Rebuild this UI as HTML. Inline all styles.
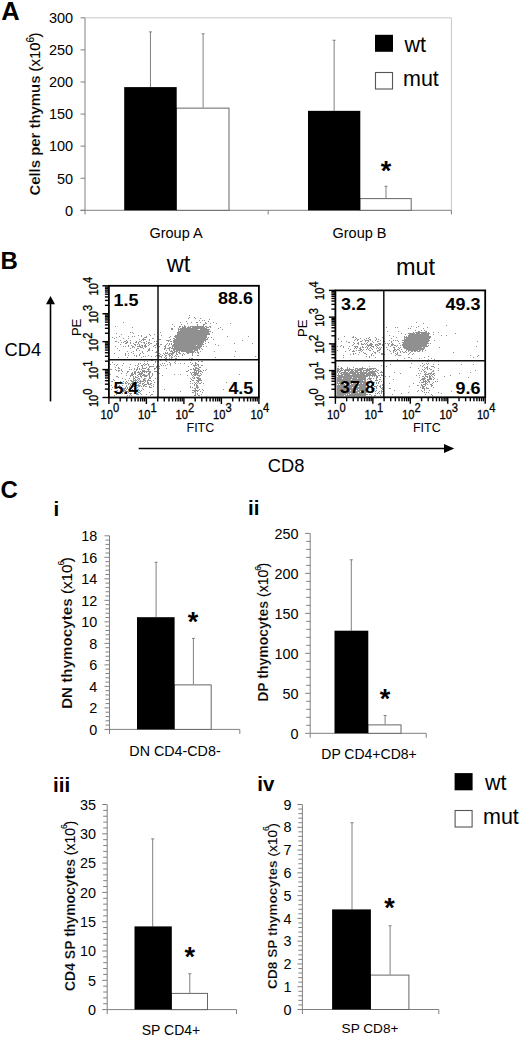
<!DOCTYPE html>
<html><head><meta charset="utf-8"><style>
html,body{margin:0;padding:0;background:#fff;width:520px;height:1037px;overflow:hidden}
svg{display:block;font-family:"Liberation Sans",sans-serif}
</style></head><body>
<svg width="520" height="1037" viewBox="0 0 520 1037" shape-rendering="auto">
<rect width="520" height="1037" fill="#fff"/>
<text x="1.30" y="19.60" font-size="25.5" text-anchor="start" font-weight="bold" >A</text>
<line x1="85.00" y1="17.80" x2="451.40" y2="17.80" stroke="#c8c8c8" stroke-width="1"/>
<line x1="451.40" y1="17.80" x2="451.40" y2="210.30" stroke="#c8c8c8" stroke-width="1"/>
<line x1="85.00" y1="17.80" x2="85.00" y2="214.50" stroke="#808080" stroke-width="1"/>
<line x1="80.50" y1="210.30" x2="85.00" y2="210.30" stroke="#808080" stroke-width="1"/>
<text x="73.20" y="215.60" font-size="14.5" text-anchor="end" font-weight="normal" >0</text>
<line x1="80.50" y1="178.22" x2="85.00" y2="178.22" stroke="#808080" stroke-width="1"/>
<text x="73.20" y="183.52" font-size="14.5" text-anchor="end" font-weight="normal" >50</text>
<line x1="80.50" y1="146.13" x2="85.00" y2="146.13" stroke="#808080" stroke-width="1"/>
<text x="73.20" y="151.43" font-size="14.5" text-anchor="end" font-weight="normal" >100</text>
<line x1="80.50" y1="114.05" x2="85.00" y2="114.05" stroke="#808080" stroke-width="1"/>
<text x="73.20" y="119.35" font-size="14.5" text-anchor="end" font-weight="normal" >150</text>
<line x1="80.50" y1="81.97" x2="85.00" y2="81.97" stroke="#808080" stroke-width="1"/>
<text x="73.20" y="87.27" font-size="14.5" text-anchor="end" font-weight="normal" >200</text>
<line x1="80.50" y1="49.88" x2="85.00" y2="49.88" stroke="#808080" stroke-width="1"/>
<text x="73.20" y="55.18" font-size="14.5" text-anchor="end" font-weight="normal" >250</text>
<line x1="80.50" y1="17.80" x2="85.00" y2="17.80" stroke="#808080" stroke-width="1"/>
<text x="73.20" y="23.10" font-size="14.5" text-anchor="end" font-weight="normal" >300</text>
<line x1="80.50" y1="210.30" x2="451.40" y2="210.30" stroke="#808080" stroke-width="1"/>
<line x1="268.20" y1="210.30" x2="268.20" y2="214.50" stroke="#808080" stroke-width="1"/>
<line x1="451.40" y1="210.30" x2="451.40" y2="214.50" stroke="#808080" stroke-width="1"/>
<line x1="203.10" y1="33.84" x2="203.10" y2="107.63" stroke="#808080" stroke-width="1"/>
<line x1="201.60" y1="33.84" x2="204.60" y2="33.84" stroke="#808080" stroke-width="1"/>
<rect x="176.20" y="108.13" width="52.80" height="102.17" fill="#fff" stroke="#666" stroke-width="1"/>
<line x1="150.45" y1="31.92" x2="150.45" y2="87.10" stroke="#808080" stroke-width="1"/>
<line x1="148.95" y1="31.92" x2="151.95" y2="31.92" stroke="#808080" stroke-width="1"/>
<rect x="124.20" y="87.10" width="52.50" height="123.20" fill="#000" stroke="none" stroke-width="1"/>
<line x1="386.00" y1="186.24" x2="386.00" y2="198.11" stroke="#808080" stroke-width="1"/>
<line x1="384.50" y1="186.24" x2="387.50" y2="186.24" stroke="#808080" stroke-width="1"/>
<rect x="359.80" y="198.61" width="51.40" height="11.69" fill="#fff" stroke="#666" stroke-width="1"/>
<line x1="334.15" y1="40.26" x2="334.15" y2="110.84" stroke="#808080" stroke-width="1"/>
<line x1="332.65" y1="40.26" x2="335.65" y2="40.26" stroke="#808080" stroke-width="1"/>
<rect x="308.00" y="110.84" width="52.30" height="99.46" fill="#000" stroke="none" stroke-width="1"/>
<text x="386.00" y="180.27" font-size="27" text-anchor="middle" font-weight="bold" >*</text>
<text x="176.00" y="238.00" font-size="14.5" text-anchor="middle" font-weight="normal" >Group A</text>
<text x="359.50" y="238.00" font-size="14.5" text-anchor="middle" font-weight="normal" >Group B</text>
<text transform="translate(39.6,114) rotate(-90)" font-size="14.9" text-anchor="middle" font-weight="bold"><tspan stroke="#fff" stroke-width="0.2">Cells per thymus</tspan> <tspan font-weight="normal" stroke="#000" stroke-width="0.12">(x10<tspan font-size="10" dy="-5.8">6</tspan><tspan dy="5.8" dx="-0.5">)</tspan></tspan></text>
<rect x="375.00" y="34.80" width="18.00" height="17.00" fill="#000" stroke="none" stroke-width="1"/>
<text x="404.50" y="51.80" font-size="21.5" text-anchor="start" font-weight="normal" >wt</text>
<rect x="375.50" y="72.50" width="17.00" height="16.50" fill="#fff" stroke="#555" stroke-width="1.1"/>
<text x="403.00" y="85.80" font-size="21.5" text-anchor="start" font-weight="normal" >mut</text>
<text x="0.50" y="269.30" font-size="24" text-anchor="start" font-weight="bold" >B</text>
<text x="178.50" y="272.30" font-size="23.5" text-anchor="middle" font-weight="normal" >wt</text>
<text x="415.50" y="274.90" font-size="23.5" text-anchor="middle" font-weight="normal" >mut</text>
<line x1="50.50" y1="401.40" x2="50.50" y2="303.00" stroke="#000" stroke-width="1.6"/>
<path d="M50.5,296 L46,304.3 L55,304.3 Z" fill="#000"/>
<text x="4.50" y="355.70" font-size="18.3" text-anchor="start" font-weight="normal" >CD4</text>
<line x1="138.70" y1="448.50" x2="445.00" y2="448.50" stroke="#000" stroke-width="1.6"/>
<path d="M454.2,448.5 L444,444 L444,453 Z" fill="#000"/>
<text x="267.80" y="471.50" font-size="18.3" text-anchor="start" font-weight="normal" >CD8</text>
<path d="M110 364h1v1h-1zM110 369h1v1h-1zM110 374h1v1h-1zM111 369h1v1h-1zM111 381h1v1h-1zM111 385h1v1h-1zM111 389h1v1h-1zM112 337h1v1h-1zM112 362h1v1h-1zM112 381h1v1h-1zM112 387h1v1h-1zM113 379h1v1h-1zM114 338h1v1h-1zM114 353h1v1h-1zM114 364h1v1h-1zM114 380h1v1h-1zM114 386h1v1h-1zM114 395h1v1h-1zM115 326h1v1h-1zM115 341h1v1h-1zM115 346h1v1h-1zM115 367h1v1h-1zM115 369h1v1h-1zM116 333h1v1h-1zM116 337h1v1h-1zM116 341h1v1h-1zM116 365h1v1h-1zM116 370h1v1h-1zM116 376h1v1h-1zM116 394h1v1h-1zM117 348h1v1h-1zM117 364h1v1h-1zM117 376h1v1h-1zM117 382h1v1h-1zM117 387h1v1h-1zM117 390h1v1h-1zM117 392h1v1h-1zM118 342h1v1h-1zM118 357h1v1h-1zM118 367h1v1h-1zM118 368h1v1h-1zM118 370h1v1h-1zM118 371h1v1h-1zM118 377h1v1h-1zM119 336h1v1h-1zM119 350h1v1h-1zM119 368h1v1h-1zM119 370h1v1h-1zM119 385h1v1h-1zM119 387h1v1h-1zM119 388h1v1h-1zM120 340h1v1h-1zM120 344h1v1h-1zM120 381h1v1h-1zM120 383h1v1h-1zM120 392h1v1h-1zM121 334h1v1h-1zM121 342h1v1h-1zM121 369h1v1h-1zM121 370h1v1h-1zM121 373h1v1h-1zM121 388h1v1h-1zM121 392h1v1h-1zM122 365h1v1h-1zM122 371h1v1h-1zM122 378h1v1h-1zM122 383h1v1h-1zM122 385h1v1h-1zM122 390h1v1h-1zM122 393h1v1h-1zM123 322h1v1h-1zM123 338h1v1h-1zM123 342h1v1h-1zM123 346h1v1h-1zM123 363h1v1h-1zM123 381h1v1h-1zM123 383h1v1h-1zM123 388h1v1h-1zM123 389h1v1h-1zM123 390h1v1h-1zM123 391h1v1h-1zM124 341h1v1h-1zM124 388h1v1h-1zM124 389h1v1h-1zM124 390h1v1h-1zM125 341h1v1h-1zM125 343h1v1h-1zM125 346h1v1h-1zM125 353h1v1h-1zM125 354h1v1h-1zM125 355h1v1h-1zM125 379h1v1h-1zM125 382h1v1h-1zM125 383h1v1h-1zM125 387h1v1h-1zM125 388h1v1h-1zM125 390h1v1h-1zM125 392h1v1h-1zM126 340h1v1h-1zM126 342h1v1h-1zM126 343h1v1h-1zM126 373h1v1h-1zM126 375h1v1h-1zM126 381h1v1h-1zM126 383h1v1h-1zM126 385h1v1h-1zM126 386h1v1h-1zM126 389h1v1h-1zM126 391h1v1h-1zM127 341h1v1h-1zM127 342h1v1h-1zM127 351h1v1h-1zM127 357h1v1h-1zM127 371h1v1h-1zM127 372h1v1h-1zM127 382h1v1h-1zM127 387h1v1h-1zM127 388h1v1h-1zM127 391h1v1h-1zM127 395h1v1h-1zM128 336h1v1h-1zM128 338h1v1h-1zM128 345h1v1h-1zM128 346h1v1h-1zM128 353h1v1h-1zM128 355h1v1h-1zM128 371h1v1h-1zM128 380h1v1h-1zM128 383h1v1h-1zM128 384h1v1h-1zM128 389h1v1h-1zM128 392h1v1h-1zM129 367h1v1h-1zM129 369h1v1h-1zM129 378h1v1h-1zM129 383h1v1h-1zM129 386h1v1h-1zM129 387h1v1h-1zM129 388h1v1h-1zM129 389h1v1h-1zM129 390h1v1h-1zM129 393h1v1h-1zM129 395h1v1h-1zM130 332h1v1h-1zM130 340h1v1h-1zM130 342h1v1h-1zM130 343h1v1h-1zM130 348h1v1h-1zM130 364h1v1h-1zM130 375h1v1h-1zM130 376h1v1h-1zM130 380h1v1h-1zM130 384h1v1h-1zM130 385h1v1h-1zM130 388h1v1h-1zM130 391h1v1h-1zM130 393h1v1h-1zM130 394h1v1h-1zM131 345h1v1h-1zM131 352h1v1h-1zM131 369h1v1h-1zM131 373h1v1h-1zM131 374h1v1h-1zM131 375h1v1h-1zM131 380h1v1h-1zM131 381h1v1h-1zM131 383h1v1h-1zM131 386h1v1h-1zM131 387h1v1h-1zM131 388h1v1h-1zM131 393h1v1h-1zM131 395h1v1h-1zM132 327h1v1h-1zM132 332h1v1h-1zM132 336h1v1h-1zM132 346h1v1h-1zM132 347h1v1h-1zM132 372h1v1h-1zM132 373h1v1h-1zM132 374h1v1h-1zM132 375h1v1h-1zM132 381h1v1h-1zM132 382h1v1h-1zM132 383h1v1h-1zM132 384h1v1h-1zM132 386h1v1h-1zM132 387h1v1h-1zM132 389h1v1h-1zM132 390h1v1h-1zM133 333h1v1h-1zM133 343h1v1h-1zM133 346h1v1h-1zM133 351h1v1h-1zM133 353h1v1h-1zM133 374h1v1h-1zM133 376h1v1h-1zM133 377h1v1h-1zM133 378h1v1h-1zM133 379h1v1h-1zM133 380h1v1h-1zM133 381h1v1h-1zM133 384h1v1h-1zM133 385h1v1h-1zM133 386h1v1h-1zM133 390h1v1h-1zM133 391h1v1h-1zM134 336h1v1h-1zM134 344h1v1h-1zM134 347h1v1h-1zM134 355h1v1h-1zM134 368h1v1h-1zM134 369h1v1h-1zM134 371h1v1h-1zM134 372h1v1h-1zM134 373h1v1h-1zM134 378h1v1h-1zM134 380h1v1h-1zM134 382h1v1h-1zM134 383h1v1h-1zM134 384h1v1h-1zM134 386h1v1h-1zM134 388h1v1h-1zM134 391h1v1h-1zM134 393h1v1h-1zM135 342h1v1h-1zM135 344h1v1h-1zM135 345h1v1h-1zM135 365h1v1h-1zM135 371h1v1h-1zM135 372h1v1h-1zM135 373h1v1h-1zM135 374h1v1h-1zM135 376h1v1h-1zM135 377h1v1h-1zM135 379h1v1h-1zM135 380h1v1h-1zM135 381h1v1h-1zM135 382h1v1h-1zM135 383h1v1h-1zM135 385h1v1h-1zM135 386h1v1h-1zM135 387h1v1h-1zM136 341h1v1h-1zM136 342h1v1h-1zM136 349h1v1h-1zM136 350h1v1h-1zM136 355h1v1h-1zM136 356h1v1h-1zM136 369h1v1h-1zM136 370h1v1h-1zM136 377h1v1h-1zM136 380h1v1h-1zM136 382h1v1h-1zM136 383h1v1h-1zM136 385h1v1h-1zM136 394h1v1h-1zM137 344h1v1h-1zM137 346h1v1h-1zM137 348h1v1h-1zM137 365h1v1h-1zM137 367h1v1h-1zM137 368h1v1h-1zM137 369h1v1h-1zM137 372h1v1h-1zM137 375h1v1h-1zM137 377h1v1h-1zM137 379h1v1h-1zM137 381h1v1h-1zM137 382h1v1h-1zM137 385h1v1h-1zM137 387h1v1h-1zM137 389h1v1h-1zM137 391h1v1h-1zM137 393h1v1h-1zM137 394h1v1h-1zM138 335h1v1h-1zM138 342h1v1h-1zM138 343h1v1h-1zM138 346h1v1h-1zM138 348h1v1h-1zM138 363h1v1h-1zM138 364h1v1h-1zM138 366h1v1h-1zM138 371h1v1h-1zM138 372h1v1h-1zM138 374h1v1h-1zM138 376h1v1h-1zM138 378h1v1h-1zM138 380h1v1h-1zM138 382h1v1h-1zM138 384h1v1h-1zM138 385h1v1h-1zM138 386h1v1h-1zM138 389h1v1h-1zM138 392h1v1h-1zM138 394h1v1h-1zM139 339h1v1h-1zM139 341h1v1h-1zM139 344h1v1h-1zM139 345h1v1h-1zM139 346h1v1h-1zM139 350h1v1h-1zM139 354h1v1h-1zM139 355h1v1h-1zM139 368h1v1h-1zM139 369h1v1h-1zM139 372h1v1h-1zM139 373h1v1h-1zM139 374h1v1h-1zM139 378h1v1h-1zM139 379h1v1h-1zM139 381h1v1h-1zM139 383h1v1h-1zM139 385h1v1h-1zM139 386h1v1h-1zM139 390h1v1h-1zM139 392h1v1h-1zM140 341h1v1h-1zM140 346h1v1h-1zM140 347h1v1h-1zM140 353h1v1h-1zM140 363h1v1h-1zM140 371h1v1h-1zM140 373h1v1h-1zM140 374h1v1h-1zM140 375h1v1h-1zM140 376h1v1h-1zM140 380h1v1h-1zM140 381h1v1h-1zM140 382h1v1h-1zM140 383h1v1h-1zM140 385h1v1h-1zM140 391h1v1h-1zM140 393h1v1h-1zM141 335h1v1h-1zM141 336h1v1h-1zM141 340h1v1h-1zM141 342h1v1h-1zM141 345h1v1h-1zM141 347h1v1h-1zM141 357h1v1h-1zM141 365h1v1h-1zM141 369h1v1h-1zM141 372h1v1h-1zM141 373h1v1h-1zM141 374h1v1h-1zM141 376h1v1h-1zM141 377h1v1h-1zM141 381h1v1h-1zM141 386h1v1h-1zM141 390h1v1h-1zM141 394h1v1h-1zM142 339h1v1h-1zM142 345h1v1h-1zM142 346h1v1h-1zM142 347h1v1h-1zM142 351h1v1h-1zM142 352h1v1h-1zM142 359h1v1h-1zM142 365h1v1h-1zM142 366h1v1h-1zM142 367h1v1h-1zM142 368h1v1h-1zM142 370h1v1h-1zM142 371h1v1h-1zM142 372h1v1h-1zM142 373h1v1h-1zM142 375h1v1h-1zM142 381h1v1h-1zM142 383h1v1h-1zM142 384h1v1h-1zM142 388h1v1h-1zM143 338h1v1h-1zM143 339h1v1h-1zM143 340h1v1h-1zM143 342h1v1h-1zM143 348h1v1h-1zM143 353h1v1h-1zM143 356h1v1h-1zM143 359h1v1h-1zM143 364h1v1h-1zM143 368h1v1h-1zM143 370h1v1h-1zM143 371h1v1h-1zM143 374h1v1h-1zM143 375h1v1h-1zM143 379h1v1h-1zM143 380h1v1h-1zM143 381h1v1h-1zM143 383h1v1h-1zM143 385h1v1h-1zM143 386h1v1h-1zM143 389h1v1h-1zM144 337h1v1h-1zM144 339h1v1h-1zM144 342h1v1h-1zM144 343h1v1h-1zM144 345h1v1h-1zM144 346h1v1h-1zM144 361h1v1h-1zM144 363h1v1h-1zM144 365h1v1h-1zM144 368h1v1h-1zM144 370h1v1h-1zM144 371h1v1h-1zM144 372h1v1h-1zM144 374h1v1h-1zM144 375h1v1h-1zM144 376h1v1h-1zM144 378h1v1h-1zM144 379h1v1h-1zM144 380h1v1h-1zM144 382h1v1h-1zM144 384h1v1h-1zM144 385h1v1h-1zM145 337h1v1h-1zM145 339h1v1h-1zM145 344h1v1h-1zM145 345h1v1h-1zM145 346h1v1h-1zM145 347h1v1h-1zM145 356h1v1h-1zM145 364h1v1h-1zM145 368h1v1h-1zM145 371h1v1h-1zM145 375h1v1h-1zM145 376h1v1h-1zM145 378h1v1h-1zM145 380h1v1h-1zM145 381h1v1h-1zM145 384h1v1h-1zM145 386h1v1h-1zM146 336h1v1h-1zM146 337h1v1h-1zM146 341h1v1h-1zM146 343h1v1h-1zM146 346h1v1h-1zM146 364h1v1h-1zM146 367h1v1h-1zM146 371h1v1h-1zM146 372h1v1h-1zM146 375h1v1h-1zM146 376h1v1h-1zM146 384h1v1h-1zM146 386h1v1h-1zM146 394h1v1h-1zM147 351h1v1h-1zM147 361h1v1h-1zM147 363h1v1h-1zM147 369h1v1h-1zM147 371h1v1h-1zM147 375h1v1h-1zM147 380h1v1h-1zM147 381h1v1h-1zM147 382h1v1h-1zM147 383h1v1h-1zM148 342h1v1h-1zM148 343h1v1h-1zM148 345h1v1h-1zM148 349h1v1h-1zM148 350h1v1h-1zM148 355h1v1h-1zM148 364h1v1h-1zM148 365h1v1h-1zM148 368h1v1h-1zM148 369h1v1h-1zM148 370h1v1h-1zM148 371h1v1h-1zM148 373h1v1h-1zM148 374h1v1h-1zM148 379h1v1h-1zM148 380h1v1h-1zM148 382h1v1h-1zM148 383h1v1h-1zM148 384h1v1h-1zM149 334h1v1h-1zM149 339h1v1h-1zM149 340h1v1h-1zM149 342h1v1h-1zM149 344h1v1h-1zM149 348h1v1h-1zM149 349h1v1h-1zM149 350h1v1h-1zM149 366h1v1h-1zM149 367h1v1h-1zM149 369h1v1h-1zM149 371h1v1h-1zM149 372h1v1h-1zM149 373h1v1h-1zM149 374h1v1h-1zM149 375h1v1h-1zM149 376h1v1h-1zM149 377h1v1h-1zM149 378h1v1h-1zM149 380h1v1h-1zM149 384h1v1h-1zM149 386h1v1h-1zM149 387h1v1h-1zM149 392h1v1h-1zM150 335h1v1h-1zM150 343h1v1h-1zM150 366h1v1h-1zM150 371h1v1h-1zM150 372h1v1h-1zM150 377h1v1h-1zM150 378h1v1h-1zM150 380h1v1h-1zM150 383h1v1h-1zM150 384h1v1h-1zM150 387h1v1h-1zM150 395h1v1h-1zM151 343h1v1h-1zM151 356h1v1h-1zM151 359h1v1h-1zM151 360h1v1h-1zM151 366h1v1h-1zM151 376h1v1h-1zM151 381h1v1h-1zM151 383h1v1h-1zM151 385h1v1h-1zM151 387h1v1h-1zM151 394h1v1h-1zM152 338h1v1h-1zM152 350h1v1h-1zM152 360h1v1h-1zM152 366h1v1h-1zM152 373h1v1h-1zM152 374h1v1h-1zM152 375h1v1h-1zM152 394h1v1h-1zM153 338h1v1h-1zM153 346h1v1h-1zM153 364h1v1h-1zM153 366h1v1h-1zM153 380h1v1h-1zM153 384h1v1h-1zM153 386h1v1h-1zM153 391h1v1h-1zM154 334h1v1h-1zM154 341h1v1h-1zM154 345h1v1h-1zM154 368h1v1h-1zM154 369h1v1h-1zM154 371h1v1h-1zM154 382h1v1h-1zM155 345h1v1h-1zM155 347h1v1h-1zM155 352h1v1h-1zM155 356h1v1h-1zM155 361h1v1h-1zM155 362h1v1h-1zM155 368h1v1h-1zM155 371h1v1h-1zM155 378h1v1h-1zM156 341h1v1h-1zM156 343h1v1h-1zM156 344h1v1h-1zM156 351h1v1h-1zM156 352h1v1h-1zM156 355h1v1h-1zM156 359h1v1h-1zM156 366h1v1h-1zM156 367h1v1h-1zM156 371h1v1h-1zM157 336h1v1h-1zM157 345h1v1h-1zM157 346h1v1h-1zM157 355h1v1h-1zM157 361h1v1h-1zM157 365h1v1h-1zM157 366h1v1h-1zM157 372h1v1h-1zM158 343h1v1h-1zM158 347h1v1h-1zM158 350h1v1h-1zM158 355h1v1h-1zM158 357h1v1h-1zM158 361h1v1h-1zM159 339h1v1h-1zM159 346h1v1h-1zM159 353h1v1h-1zM159 355h1v1h-1zM159 356h1v1h-1zM159 366h1v1h-1zM159 368h1v1h-1zM159 373h1v1h-1zM160 332h1v1h-1zM160 339h1v1h-1zM160 344h1v1h-1zM160 354h1v1h-1zM160 356h1v1h-1zM160 360h1v1h-1zM160 364h1v1h-1zM161 335h1v1h-1zM161 344h1v1h-1zM161 356h1v1h-1zM161 357h1v1h-1zM161 365h1v1h-1zM162 355h1v1h-1zM162 363h1v1h-1zM162 375h1v1h-1zM163 353h1v1h-1zM163 365h1v1h-1zM164 346h1v1h-1zM164 348h1v1h-1zM164 349h1v1h-1zM164 354h1v1h-1zM164 357h1v1h-1zM164 363h1v1h-1zM164 389h1v1h-1zM165 345h1v1h-1zM165 346h1v1h-1zM165 347h1v1h-1zM165 348h1v1h-1zM165 352h1v1h-1zM165 353h1v1h-1zM165 355h1v1h-1zM165 356h1v1h-1zM165 358h1v1h-1zM165 360h1v1h-1zM165 365h1v1h-1zM166 340h1v1h-1zM166 344h1v1h-1zM166 350h1v1h-1zM166 353h1v1h-1zM166 355h1v1h-1zM166 357h1v1h-1zM166 358h1v1h-1zM166 361h1v1h-1zM166 368h1v1h-1zM167 340h1v1h-1zM167 343h1v1h-1zM167 348h1v1h-1zM167 352h1v1h-1zM167 353h1v1h-1zM167 364h1v1h-1zM168 340h1v1h-1zM168 341h1v1h-1zM168 345h1v1h-1zM168 348h1v1h-1zM168 354h1v1h-1zM169 337h1v1h-1zM169 340h1v1h-1zM169 343h1v1h-1zM169 344h1v1h-1zM169 347h1v1h-1zM169 348h1v1h-1zM169 349h1v1h-1zM169 350h1v1h-1zM169 353h1v1h-1zM169 354h1v1h-1zM169 355h1v1h-1zM169 356h1v1h-1zM169 358h1v1h-1zM169 362h1v1h-1zM170 336h1v1h-1zM170 339h1v1h-1zM170 341h1v1h-1zM170 347h1v1h-1zM170 351h1v1h-1zM170 353h1v1h-1zM170 355h1v1h-1zM170 363h1v1h-1zM170 364h1v1h-1zM170 365h1v1h-1zM171 328h1v1h-1zM171 329h1v1h-1zM171 341h1v1h-1zM171 343h1v1h-1zM171 344h1v1h-1zM171 348h1v1h-1zM171 350h1v1h-1zM171 351h1v1h-1zM171 353h1v1h-1zM171 354h1v1h-1zM171 356h1v1h-1zM171 357h1v1h-1zM171 358h1v1h-1zM171 359h1v1h-1zM172 324h1v1h-1zM172 328h1v1h-1zM172 329h1v1h-1zM172 345h1v1h-1zM172 346h1v1h-1zM172 347h1v1h-1zM172 348h1v1h-1zM172 351h1v1h-1zM172 352h1v1h-1zM172 353h1v1h-1zM172 354h1v1h-1zM172 355h1v1h-1zM172 357h1v1h-1zM173 338h1v1h-1zM173 340h1v1h-1zM173 341h1v1h-1zM173 342h1v1h-1zM173 344h1v1h-1zM173 345h1v1h-1zM173 346h1v1h-1zM173 348h1v1h-1zM173 349h1v1h-1zM173 350h1v1h-1zM173 352h1v1h-1zM173 353h1v1h-1zM174 326h1v1h-1zM174 336h1v1h-1zM174 338h1v1h-1zM174 339h1v1h-1zM174 340h1v1h-1zM174 341h1v1h-1zM174 342h1v1h-1zM174 343h1v1h-1zM174 344h1v1h-1zM174 345h1v1h-1zM174 346h1v1h-1zM174 347h1v1h-1zM174 348h1v1h-1zM174 349h1v1h-1zM174 350h1v1h-1zM174 351h1v1h-1zM174 352h1v1h-1zM174 356h1v1h-1zM174 362h1v1h-1zM174 374h1v1h-1zM175 335h1v1h-1zM175 336h1v1h-1zM175 337h1v1h-1zM175 339h1v1h-1zM175 340h1v1h-1zM175 341h1v1h-1zM175 342h1v1h-1zM175 343h1v1h-1zM175 344h1v1h-1zM175 345h1v1h-1zM175 346h1v1h-1zM175 347h1v1h-1zM175 348h1v1h-1zM175 349h1v1h-1zM175 351h1v1h-1zM175 355h1v1h-1zM175 358h1v1h-1zM175 361h1v1h-1zM175 363h1v1h-1zM176 335h1v1h-1zM176 336h1v1h-1zM176 337h1v1h-1zM176 338h1v1h-1zM176 339h1v1h-1zM176 340h1v1h-1zM176 341h1v1h-1zM176 342h1v1h-1zM176 343h1v1h-1zM176 344h1v1h-1zM176 345h1v1h-1zM176 346h1v1h-1zM176 347h1v1h-1zM176 348h1v1h-1zM176 349h1v1h-1zM176 350h1v1h-1zM176 351h1v1h-1zM176 352h1v1h-1zM176 353h1v1h-1zM176 354h1v1h-1zM176 356h1v1h-1zM176 358h1v1h-1zM177 332h1v1h-1zM177 333h1v1h-1zM177 334h1v1h-1zM177 335h1v1h-1zM177 336h1v1h-1zM177 337h1v1h-1zM177 338h1v1h-1zM177 339h1v1h-1zM177 340h1v1h-1zM177 341h1v1h-1zM177 342h1v1h-1zM177 343h1v1h-1zM177 344h1v1h-1zM177 345h1v1h-1zM177 346h1v1h-1zM177 347h1v1h-1zM177 348h1v1h-1zM177 349h1v1h-1zM177 350h1v1h-1zM177 351h1v1h-1zM177 354h1v1h-1zM178 328h1v1h-1zM178 329h1v1h-1zM178 330h1v1h-1zM178 331h1v1h-1zM178 332h1v1h-1zM178 333h1v1h-1zM178 334h1v1h-1zM178 335h1v1h-1zM178 336h1v1h-1zM178 337h1v1h-1zM178 338h1v1h-1zM178 339h1v1h-1zM178 340h1v1h-1zM178 341h1v1h-1zM178 342h1v1h-1zM178 343h1v1h-1zM178 344h1v1h-1zM178 345h1v1h-1zM178 346h1v1h-1zM178 347h1v1h-1zM178 348h1v1h-1zM178 349h1v1h-1zM178 350h1v1h-1zM178 352h1v1h-1zM178 356h1v1h-1zM178 359h1v1h-1zM179 326h1v1h-1zM179 327h1v1h-1zM179 329h1v1h-1zM179 331h1v1h-1zM179 332h1v1h-1zM179 333h1v1h-1zM179 334h1v1h-1zM179 335h1v1h-1zM179 336h1v1h-1zM179 337h1v1h-1zM179 338h1v1h-1zM179 339h1v1h-1zM179 340h1v1h-1zM179 341h1v1h-1zM179 342h1v1h-1zM179 343h1v1h-1zM179 344h1v1h-1zM179 345h1v1h-1zM179 346h1v1h-1zM179 347h1v1h-1zM179 348h1v1h-1zM179 349h1v1h-1zM179 350h1v1h-1zM179 351h1v1h-1zM179 352h1v1h-1zM179 353h1v1h-1zM180 322h1v1h-1zM180 326h1v1h-1zM180 328h1v1h-1zM180 329h1v1h-1zM180 330h1v1h-1zM180 331h1v1h-1zM180 332h1v1h-1zM180 333h1v1h-1zM180 334h1v1h-1zM180 335h1v1h-1zM180 336h1v1h-1zM180 337h1v1h-1zM180 338h1v1h-1zM180 339h1v1h-1zM180 340h1v1h-1zM180 341h1v1h-1zM180 342h1v1h-1zM180 343h1v1h-1zM180 344h1v1h-1zM180 345h1v1h-1zM180 346h1v1h-1zM180 347h1v1h-1zM180 348h1v1h-1zM180 349h1v1h-1zM180 350h1v1h-1zM180 353h1v1h-1zM180 359h1v1h-1zM180 363h1v1h-1zM180 374h1v1h-1zM180 391h1v1h-1zM181 324h1v1h-1zM181 328h1v1h-1zM181 329h1v1h-1zM181 330h1v1h-1zM181 331h1v1h-1zM181 332h1v1h-1zM181 333h1v1h-1zM181 334h1v1h-1zM181 335h1v1h-1zM181 336h1v1h-1zM181 337h1v1h-1zM181 338h1v1h-1zM181 339h1v1h-1zM181 340h1v1h-1zM181 341h1v1h-1zM181 342h1v1h-1zM181 343h1v1h-1zM181 344h1v1h-1zM181 345h1v1h-1zM181 346h1v1h-1zM181 347h1v1h-1zM181 348h1v1h-1zM181 349h1v1h-1zM181 350h1v1h-1zM181 351h1v1h-1zM182 326h1v1h-1zM182 327h1v1h-1zM182 328h1v1h-1zM182 329h1v1h-1zM182 330h1v1h-1zM182 331h1v1h-1zM182 332h1v1h-1zM182 333h1v1h-1zM182 334h1v1h-1zM182 335h1v1h-1zM182 336h1v1h-1zM182 337h1v1h-1zM182 338h1v1h-1zM182 339h1v1h-1zM182 340h1v1h-1zM182 341h1v1h-1zM182 342h1v1h-1zM182 343h1v1h-1zM182 344h1v1h-1zM182 345h1v1h-1zM182 346h1v1h-1zM182 347h1v1h-1zM182 348h1v1h-1zM182 349h1v1h-1zM182 350h1v1h-1zM182 351h1v1h-1zM182 354h1v1h-1zM182 355h1v1h-1zM183 327h1v1h-1zM183 328h1v1h-1zM183 329h1v1h-1zM183 330h1v1h-1zM183 331h1v1h-1zM183 332h1v1h-1zM183 333h1v1h-1zM183 334h1v1h-1zM183 335h1v1h-1zM183 336h1v1h-1zM183 337h1v1h-1zM183 338h1v1h-1zM183 339h1v1h-1zM183 340h1v1h-1zM183 341h1v1h-1zM183 342h1v1h-1zM183 343h1v1h-1zM183 344h1v1h-1zM183 345h1v1h-1zM183 346h1v1h-1zM183 347h1v1h-1zM183 348h1v1h-1zM183 349h1v1h-1zM183 350h1v1h-1zM183 351h1v1h-1zM183 353h1v1h-1zM184 325h1v1h-1zM184 326h1v1h-1zM184 327h1v1h-1zM184 328h1v1h-1zM184 329h1v1h-1zM184 330h1v1h-1zM184 331h1v1h-1zM184 332h1v1h-1zM184 333h1v1h-1zM184 334h1v1h-1zM184 335h1v1h-1zM184 336h1v1h-1zM184 337h1v1h-1zM184 338h1v1h-1zM184 339h1v1h-1zM184 340h1v1h-1zM184 341h1v1h-1zM184 342h1v1h-1zM184 343h1v1h-1zM184 344h1v1h-1zM184 345h1v1h-1zM184 346h1v1h-1zM184 347h1v1h-1zM184 348h1v1h-1zM184 349h1v1h-1zM184 350h1v1h-1zM184 351h1v1h-1zM184 354h1v1h-1zM184 359h1v1h-1zM184 363h1v1h-1zM185 326h1v1h-1zM185 327h1v1h-1zM185 328h1v1h-1zM185 329h1v1h-1zM185 330h1v1h-1zM185 331h1v1h-1zM185 332h1v1h-1zM185 333h1v1h-1zM185 334h1v1h-1zM185 335h1v1h-1zM185 336h1v1h-1zM185 337h1v1h-1zM185 338h1v1h-1zM185 339h1v1h-1zM185 340h1v1h-1zM185 341h1v1h-1zM185 342h1v1h-1zM185 343h1v1h-1zM185 344h1v1h-1zM185 345h1v1h-1zM185 346h1v1h-1zM185 347h1v1h-1zM185 348h1v1h-1zM185 349h1v1h-1zM185 350h1v1h-1zM185 351h1v1h-1zM186 321h1v1h-1zM186 328h1v1h-1zM186 329h1v1h-1zM186 330h1v1h-1zM186 331h1v1h-1zM186 332h1v1h-1zM186 333h1v1h-1zM186 334h1v1h-1zM186 335h1v1h-1zM186 336h1v1h-1zM186 337h1v1h-1zM186 338h1v1h-1zM186 339h1v1h-1zM186 340h1v1h-1zM186 341h1v1h-1zM186 342h1v1h-1zM186 343h1v1h-1zM186 344h1v1h-1zM186 345h1v1h-1zM186 346h1v1h-1zM186 347h1v1h-1zM186 348h1v1h-1zM186 349h1v1h-1zM186 350h1v1h-1zM186 351h1v1h-1zM186 352h1v1h-1zM186 371h1v1h-1zM187 323h1v1h-1zM187 327h1v1h-1zM187 328h1v1h-1zM187 329h1v1h-1zM187 330h1v1h-1zM187 331h1v1h-1zM187 332h1v1h-1zM187 333h1v1h-1zM187 334h1v1h-1zM187 335h1v1h-1zM187 336h1v1h-1zM187 337h1v1h-1zM187 338h1v1h-1zM187 339h1v1h-1zM187 340h1v1h-1zM187 341h1v1h-1zM187 342h1v1h-1zM187 343h1v1h-1zM187 344h1v1h-1zM187 345h1v1h-1zM187 346h1v1h-1zM187 347h1v1h-1zM187 348h1v1h-1zM187 349h1v1h-1zM187 350h1v1h-1zM187 351h1v1h-1zM187 352h1v1h-1zM187 353h1v1h-1zM187 371h1v1h-1zM187 375h1v1h-1zM188 318h1v1h-1zM188 326h1v1h-1zM188 327h1v1h-1zM188 328h1v1h-1zM188 329h1v1h-1zM188 330h1v1h-1zM188 331h1v1h-1zM188 332h1v1h-1zM188 333h1v1h-1zM188 334h1v1h-1zM188 335h1v1h-1zM188 336h1v1h-1zM188 337h1v1h-1zM188 338h1v1h-1zM188 339h1v1h-1zM188 340h1v1h-1zM188 341h1v1h-1zM188 342h1v1h-1zM188 343h1v1h-1zM188 344h1v1h-1zM188 345h1v1h-1zM188 346h1v1h-1zM188 347h1v1h-1zM188 348h1v1h-1zM188 349h1v1h-1zM188 350h1v1h-1zM188 351h1v1h-1zM188 352h1v1h-1zM188 353h1v1h-1zM188 366h1v1h-1zM188 370h1v1h-1zM189 315h1v1h-1zM189 317h1v1h-1zM189 327h1v1h-1zM189 328h1v1h-1zM189 329h1v1h-1zM189 330h1v1h-1zM189 331h1v1h-1zM189 332h1v1h-1zM189 333h1v1h-1zM189 334h1v1h-1zM189 335h1v1h-1zM189 336h1v1h-1zM189 337h1v1h-1zM189 338h1v1h-1zM189 339h1v1h-1zM189 340h1v1h-1zM189 341h1v1h-1zM189 342h1v1h-1zM189 343h1v1h-1zM189 344h1v1h-1zM189 345h1v1h-1zM189 346h1v1h-1zM189 347h1v1h-1zM189 348h1v1h-1zM189 349h1v1h-1zM189 350h1v1h-1zM189 351h1v1h-1zM189 352h1v1h-1zM189 358h1v1h-1zM190 326h1v1h-1zM190 327h1v1h-1zM190 328h1v1h-1zM190 329h1v1h-1zM190 330h1v1h-1zM190 331h1v1h-1zM190 332h1v1h-1zM190 333h1v1h-1zM190 334h1v1h-1zM190 335h1v1h-1zM190 336h1v1h-1zM190 337h1v1h-1zM190 338h1v1h-1zM190 339h1v1h-1zM190 340h1v1h-1zM190 341h1v1h-1zM190 342h1v1h-1zM190 343h1v1h-1zM190 344h1v1h-1zM190 345h1v1h-1zM190 346h1v1h-1zM190 347h1v1h-1zM190 348h1v1h-1zM190 349h1v1h-1zM190 350h1v1h-1zM190 351h1v1h-1zM190 352h1v1h-1zM190 362h1v1h-1zM190 369h1v1h-1zM190 372h1v1h-1zM190 378h1v1h-1zM190 381h1v1h-1zM190 383h1v1h-1zM190 386h1v1h-1zM190 387h1v1h-1zM191 322h1v1h-1zM191 326h1v1h-1zM191 328h1v1h-1zM191 329h1v1h-1zM191 330h1v1h-1zM191 331h1v1h-1zM191 332h1v1h-1zM191 333h1v1h-1zM191 334h1v1h-1zM191 335h1v1h-1zM191 336h1v1h-1zM191 337h1v1h-1zM191 338h1v1h-1zM191 339h1v1h-1zM191 340h1v1h-1zM191 341h1v1h-1zM191 342h1v1h-1zM191 343h1v1h-1zM191 344h1v1h-1zM191 345h1v1h-1zM191 346h1v1h-1zM191 347h1v1h-1zM191 348h1v1h-1zM191 349h1v1h-1zM191 350h1v1h-1zM191 351h1v1h-1zM191 352h1v1h-1zM191 358h1v1h-1zM191 360h1v1h-1zM191 364h1v1h-1zM191 369h1v1h-1zM191 373h1v1h-1zM191 374h1v1h-1zM191 379h1v1h-1zM192 326h1v1h-1zM192 327h1v1h-1zM192 328h1v1h-1zM192 329h1v1h-1zM192 330h1v1h-1zM192 331h1v1h-1zM192 332h1v1h-1zM192 333h1v1h-1zM192 334h1v1h-1zM192 335h1v1h-1zM192 336h1v1h-1zM192 337h1v1h-1zM192 338h1v1h-1zM192 339h1v1h-1zM192 340h1v1h-1zM192 341h1v1h-1zM192 342h1v1h-1zM192 343h1v1h-1zM192 344h1v1h-1zM192 345h1v1h-1zM192 346h1v1h-1zM192 347h1v1h-1zM192 348h1v1h-1zM192 349h1v1h-1zM192 350h1v1h-1zM192 351h1v1h-1zM192 352h1v1h-1zM192 353h1v1h-1zM192 354h1v1h-1zM192 355h1v1h-1zM192 358h1v1h-1zM192 363h1v1h-1zM192 372h1v1h-1zM192 375h1v1h-1zM192 377h1v1h-1zM192 380h1v1h-1zM192 383h1v1h-1zM192 387h1v1h-1zM192 390h1v1h-1zM192 392h1v1h-1zM193 326h1v1h-1zM193 327h1v1h-1zM193 328h1v1h-1zM193 329h1v1h-1zM193 330h1v1h-1zM193 331h1v1h-1zM193 332h1v1h-1zM193 333h1v1h-1zM193 334h1v1h-1zM193 335h1v1h-1zM193 336h1v1h-1zM193 337h1v1h-1zM193 338h1v1h-1zM193 339h1v1h-1zM193 340h1v1h-1zM193 341h1v1h-1zM193 342h1v1h-1zM193 343h1v1h-1zM193 344h1v1h-1zM193 345h1v1h-1zM193 346h1v1h-1zM193 347h1v1h-1zM193 348h1v1h-1zM193 349h1v1h-1zM193 351h1v1h-1zM193 352h1v1h-1zM193 365h1v1h-1zM193 368h1v1h-1zM193 369h1v1h-1zM193 372h1v1h-1zM193 374h1v1h-1zM193 376h1v1h-1zM193 378h1v1h-1zM193 380h1v1h-1zM193 390h1v1h-1zM193 392h1v1h-1zM194 317h1v1h-1zM194 326h1v1h-1zM194 327h1v1h-1zM194 328h1v1h-1zM194 329h1v1h-1zM194 330h1v1h-1zM194 331h1v1h-1zM194 332h1v1h-1zM194 333h1v1h-1zM194 334h1v1h-1zM194 335h1v1h-1zM194 336h1v1h-1zM194 337h1v1h-1zM194 338h1v1h-1zM194 339h1v1h-1zM194 340h1v1h-1zM194 341h1v1h-1zM194 342h1v1h-1zM194 343h1v1h-1zM194 344h1v1h-1zM194 345h1v1h-1zM194 346h1v1h-1zM194 347h1v1h-1zM194 348h1v1h-1zM194 349h1v1h-1zM194 350h1v1h-1zM194 351h1v1h-1zM194 359h1v1h-1zM194 365h1v1h-1zM194 366h1v1h-1zM194 369h1v1h-1zM194 370h1v1h-1zM194 371h1v1h-1zM194 372h1v1h-1zM194 373h1v1h-1zM194 374h1v1h-1zM194 375h1v1h-1zM194 377h1v1h-1zM194 378h1v1h-1zM194 382h1v1h-1zM194 384h1v1h-1zM194 385h1v1h-1zM194 388h1v1h-1zM194 390h1v1h-1zM194 391h1v1h-1zM194 395h1v1h-1zM195 318h1v1h-1zM195 326h1v1h-1zM195 327h1v1h-1zM195 328h1v1h-1zM195 329h1v1h-1zM195 330h1v1h-1zM195 331h1v1h-1zM195 332h1v1h-1zM195 333h1v1h-1zM195 334h1v1h-1zM195 335h1v1h-1zM195 336h1v1h-1zM195 337h1v1h-1zM195 338h1v1h-1zM195 339h1v1h-1zM195 340h1v1h-1zM195 341h1v1h-1zM195 342h1v1h-1zM195 343h1v1h-1zM195 344h1v1h-1zM195 345h1v1h-1zM195 346h1v1h-1zM195 347h1v1h-1zM195 348h1v1h-1zM195 349h1v1h-1zM195 350h1v1h-1zM195 352h1v1h-1zM195 362h1v1h-1zM195 363h1v1h-1zM195 364h1v1h-1zM195 365h1v1h-1zM195 367h1v1h-1zM195 368h1v1h-1zM195 369h1v1h-1zM195 370h1v1h-1zM195 372h1v1h-1zM195 373h1v1h-1zM195 374h1v1h-1zM195 375h1v1h-1zM195 383h1v1h-1zM195 388h1v1h-1zM195 389h1v1h-1zM195 390h1v1h-1zM195 391h1v1h-1zM195 392h1v1h-1zM195 393h1v1h-1zM195 394h1v1h-1zM195 395h1v1h-1zM196 322h1v1h-1zM196 326h1v1h-1zM196 327h1v1h-1zM196 328h1v1h-1zM196 329h1v1h-1zM196 330h1v1h-1zM196 331h1v1h-1zM196 332h1v1h-1zM196 333h1v1h-1zM196 334h1v1h-1zM196 335h1v1h-1zM196 336h1v1h-1zM196 337h1v1h-1zM196 338h1v1h-1zM196 339h1v1h-1zM196 340h1v1h-1zM196 341h1v1h-1zM196 342h1v1h-1zM196 343h1v1h-1zM196 344h1v1h-1zM196 346h1v1h-1zM196 347h1v1h-1zM196 348h1v1h-1zM196 349h1v1h-1zM196 350h1v1h-1zM196 363h1v1h-1zM196 365h1v1h-1zM196 367h1v1h-1zM196 368h1v1h-1zM196 370h1v1h-1zM196 371h1v1h-1zM196 372h1v1h-1zM196 373h1v1h-1zM196 374h1v1h-1zM196 377h1v1h-1zM196 380h1v1h-1zM196 382h1v1h-1zM196 384h1v1h-1zM196 385h1v1h-1zM196 386h1v1h-1zM196 387h1v1h-1zM196 390h1v1h-1zM197 322h1v1h-1zM197 324h1v1h-1zM197 325h1v1h-1zM197 326h1v1h-1zM197 327h1v1h-1zM197 328h1v1h-1zM197 329h1v1h-1zM197 330h1v1h-1zM197 331h1v1h-1zM197 332h1v1h-1zM197 333h1v1h-1zM197 334h1v1h-1zM197 335h1v1h-1zM197 336h1v1h-1zM197 337h1v1h-1zM197 338h1v1h-1zM197 339h1v1h-1zM197 340h1v1h-1zM197 341h1v1h-1zM197 342h1v1h-1zM197 343h1v1h-1zM197 344h1v1h-1zM197 345h1v1h-1zM197 346h1v1h-1zM197 347h1v1h-1zM197 348h1v1h-1zM197 349h1v1h-1zM197 350h1v1h-1zM197 351h1v1h-1zM197 352h1v1h-1zM197 355h1v1h-1zM197 364h1v1h-1zM197 368h1v1h-1zM197 370h1v1h-1zM197 373h1v1h-1zM197 374h1v1h-1zM197 375h1v1h-1zM197 377h1v1h-1zM197 378h1v1h-1zM197 380h1v1h-1zM197 381h1v1h-1zM197 383h1v1h-1zM197 385h1v1h-1zM197 386h1v1h-1zM197 387h1v1h-1zM197 388h1v1h-1zM197 390h1v1h-1zM197 391h1v1h-1zM197 393h1v1h-1zM197 394h1v1h-1zM198 326h1v1h-1zM198 327h1v1h-1zM198 328h1v1h-1zM198 330h1v1h-1zM198 331h1v1h-1zM198 332h1v1h-1zM198 333h1v1h-1zM198 334h1v1h-1zM198 335h1v1h-1zM198 336h1v1h-1zM198 337h1v1h-1zM198 338h1v1h-1zM198 339h1v1h-1zM198 340h1v1h-1zM198 341h1v1h-1zM198 342h1v1h-1zM198 343h1v1h-1zM198 344h1v1h-1zM198 345h1v1h-1zM198 346h1v1h-1zM198 347h1v1h-1zM198 348h1v1h-1zM198 352h1v1h-1zM198 353h1v1h-1zM198 355h1v1h-1zM198 361h1v1h-1zM198 364h1v1h-1zM198 365h1v1h-1zM198 366h1v1h-1zM198 368h1v1h-1zM198 369h1v1h-1zM198 370h1v1h-1zM198 371h1v1h-1zM198 372h1v1h-1zM198 373h1v1h-1zM198 375h1v1h-1zM198 377h1v1h-1zM198 378h1v1h-1zM198 379h1v1h-1zM198 380h1v1h-1zM198 381h1v1h-1zM198 382h1v1h-1zM198 387h1v1h-1zM198 390h1v1h-1zM198 395h1v1h-1zM199 320h1v1h-1zM199 326h1v1h-1zM199 327h1v1h-1zM199 328h1v1h-1zM199 330h1v1h-1zM199 331h1v1h-1zM199 332h1v1h-1zM199 333h1v1h-1zM199 334h1v1h-1zM199 335h1v1h-1zM199 336h1v1h-1zM199 337h1v1h-1zM199 338h1v1h-1zM199 339h1v1h-1zM199 340h1v1h-1zM199 341h1v1h-1zM199 342h1v1h-1zM199 343h1v1h-1zM199 344h1v1h-1zM199 345h1v1h-1zM199 346h1v1h-1zM199 347h1v1h-1zM199 348h1v1h-1zM199 349h1v1h-1zM199 367h1v1h-1zM199 369h1v1h-1zM199 371h1v1h-1zM199 375h1v1h-1zM199 376h1v1h-1zM199 378h1v1h-1zM199 379h1v1h-1zM199 380h1v1h-1zM199 383h1v1h-1zM199 389h1v1h-1zM199 395h1v1h-1zM200 318h1v1h-1zM200 322h1v1h-1zM200 326h1v1h-1zM200 327h1v1h-1zM200 328h1v1h-1zM200 329h1v1h-1zM200 330h1v1h-1zM200 331h1v1h-1zM200 332h1v1h-1zM200 333h1v1h-1zM200 334h1v1h-1zM200 335h1v1h-1zM200 336h1v1h-1zM200 337h1v1h-1zM200 338h1v1h-1zM200 339h1v1h-1zM200 340h1v1h-1zM200 341h1v1h-1zM200 342h1v1h-1zM200 343h1v1h-1zM200 344h1v1h-1zM200 345h1v1h-1zM200 346h1v1h-1zM200 347h1v1h-1zM200 351h1v1h-1zM200 367h1v1h-1zM200 370h1v1h-1zM200 371h1v1h-1zM200 373h1v1h-1zM200 375h1v1h-1zM200 378h1v1h-1zM200 379h1v1h-1zM200 380h1v1h-1zM200 383h1v1h-1zM200 391h1v1h-1zM201 326h1v1h-1zM201 327h1v1h-1zM201 328h1v1h-1zM201 329h1v1h-1zM201 330h1v1h-1zM201 331h1v1h-1zM201 332h1v1h-1zM201 333h1v1h-1zM201 334h1v1h-1zM201 335h1v1h-1zM201 336h1v1h-1zM201 337h1v1h-1zM201 338h1v1h-1zM201 339h1v1h-1zM201 340h1v1h-1zM201 341h1v1h-1zM201 342h1v1h-1zM201 343h1v1h-1zM201 344h1v1h-1zM201 345h1v1h-1zM201 346h1v1h-1zM201 348h1v1h-1zM201 359h1v1h-1zM201 361h1v1h-1zM201 365h1v1h-1zM201 371h1v1h-1zM201 374h1v1h-1zM201 380h1v1h-1zM201 382h1v1h-1zM201 394h1v1h-1zM202 320h1v1h-1zM202 326h1v1h-1zM202 327h1v1h-1zM202 328h1v1h-1zM202 329h1v1h-1zM202 330h1v1h-1zM202 331h1v1h-1zM202 332h1v1h-1zM202 333h1v1h-1zM202 334h1v1h-1zM202 335h1v1h-1zM202 336h1v1h-1zM202 337h1v1h-1zM202 338h1v1h-1zM202 339h1v1h-1zM202 340h1v1h-1zM202 341h1v1h-1zM202 342h1v1h-1zM202 343h1v1h-1zM202 344h1v1h-1zM202 349h1v1h-1zM202 361h1v1h-1zM202 365h1v1h-1zM202 372h1v1h-1zM202 389h1v1h-1zM202 392h1v1h-1zM203 324h1v1h-1zM203 325h1v1h-1zM203 326h1v1h-1zM203 327h1v1h-1zM203 328h1v1h-1zM203 329h1v1h-1zM203 330h1v1h-1zM203 331h1v1h-1zM203 332h1v1h-1zM203 333h1v1h-1zM203 334h1v1h-1zM203 335h1v1h-1zM203 336h1v1h-1zM203 337h1v1h-1zM203 338h1v1h-1zM203 339h1v1h-1zM203 340h1v1h-1zM203 341h1v1h-1zM203 342h1v1h-1zM203 344h1v1h-1zM203 346h1v1h-1zM203 370h1v1h-1zM203 383h1v1h-1zM203 390h1v1h-1zM204 320h1v1h-1zM204 324h1v1h-1zM204 327h1v1h-1zM204 328h1v1h-1zM204 329h1v1h-1zM204 330h1v1h-1zM204 331h1v1h-1zM204 332h1v1h-1zM204 333h1v1h-1zM204 334h1v1h-1zM204 335h1v1h-1zM204 336h1v1h-1zM204 337h1v1h-1zM204 338h1v1h-1zM204 339h1v1h-1zM204 340h1v1h-1zM205 322h1v1h-1zM205 323h1v1h-1zM205 326h1v1h-1zM205 328h1v1h-1zM205 329h1v1h-1zM205 330h1v1h-1zM205 331h1v1h-1zM205 332h1v1h-1zM205 333h1v1h-1zM205 334h1v1h-1zM205 335h1v1h-1zM205 336h1v1h-1zM205 337h1v1h-1zM205 338h1v1h-1zM205 339h1v1h-1zM205 340h1v1h-1zM205 341h1v1h-1zM205 343h1v1h-1zM205 370h1v1h-1zM206 323h1v1h-1zM206 326h1v1h-1zM206 327h1v1h-1zM206 328h1v1h-1zM206 329h1v1h-1zM206 330h1v1h-1zM206 331h1v1h-1zM206 332h1v1h-1zM206 333h1v1h-1zM206 334h1v1h-1zM206 335h1v1h-1zM206 336h1v1h-1zM206 337h1v1h-1zM206 339h1v1h-1zM206 346h1v1h-1zM206 369h1v1h-1zM207 327h1v1h-1zM207 329h1v1h-1zM207 330h1v1h-1zM207 331h1v1h-1zM207 332h1v1h-1zM207 333h1v1h-1zM207 334h1v1h-1zM207 338h1v1h-1zM207 339h1v1h-1zM208 321h1v1h-1zM208 327h1v1h-1zM208 329h1v1h-1zM208 330h1v1h-1zM208 331h1v1h-1zM208 332h1v1h-1zM208 333h1v1h-1zM208 334h1v1h-1zM208 337h1v1h-1zM208 342h1v1h-1zM209 319h1v1h-1zM209 326h1v1h-1zM209 329h1v1h-1zM209 331h1v1h-1zM209 333h1v1h-1zM209 334h1v1h-1zM210 323h1v1h-1zM210 326h1v1h-1zM210 327h1v1h-1zM210 331h1v1h-1zM211 337h1v1h-1zM212 332h1v1h-1zM213 322h1v1h-1zM213 339h1v1h-1zM214 351h1v1h-1zM215 344h1v1h-1zM215 357h1v1h-1zM216 323h1v1h-1zM218 328h1v1h-1zM218 345h1v1h-1zM220 327h1v1h-1zM222 329h1v1h-1zM223 389h1v1h-1zM226 382h1v1h-1zM227 336h1v1h-1zM230 323h1v1h-1zM231 387h1v1h-1zM234 343h1v1h-1zM234 356h1v1h-1zM235 351h1v1h-1zM239 374h1v1h-1zM242 340h1v1h-1zM248 336h1v1h-1zM251 386h1v1h-1zM252 343h1v1h-1zM255 356h1v1h-1z" fill="#909090"/>
<line x1="158.00" y1="285.80" x2="158.00" y2="397.50" stroke="#111" stroke-width="1.5"/>
<line x1="108.90" y1="359.70" x2="258.90" y2="359.70" stroke="#111" stroke-width="1.5"/>
<rect x="108.9" y="285.8" width="150.00" height="111.70" fill="none" stroke="#000" stroke-width="1.8"/>
<line x1="108.90" y1="397.50" x2="108.90" y2="404.00" stroke="#000" stroke-width="1.4"/>
<line x1="102.40" y1="397.50" x2="108.90" y2="397.50" stroke="#000" stroke-width="1.4"/>
<line x1="120.19" y1="397.50" x2="120.19" y2="401.50" stroke="#000" stroke-width="1.4"/>
<line x1="104.90" y1="389.09" x2="108.90" y2="389.09" stroke="#000" stroke-width="1.4"/>
<line x1="126.79" y1="397.50" x2="126.79" y2="401.50" stroke="#000" stroke-width="1.4"/>
<line x1="104.90" y1="384.18" x2="108.90" y2="384.18" stroke="#000" stroke-width="1.4"/>
<line x1="131.48" y1="397.50" x2="131.48" y2="401.50" stroke="#000" stroke-width="1.4"/>
<line x1="104.90" y1="380.69" x2="108.90" y2="380.69" stroke="#000" stroke-width="1.4"/>
<line x1="135.11" y1="397.50" x2="135.11" y2="401.50" stroke="#000" stroke-width="1.4"/>
<line x1="104.90" y1="377.98" x2="108.90" y2="377.98" stroke="#000" stroke-width="1.4"/>
<line x1="138.08" y1="397.50" x2="138.08" y2="401.50" stroke="#000" stroke-width="1.4"/>
<line x1="104.90" y1="375.77" x2="108.90" y2="375.77" stroke="#000" stroke-width="1.4"/>
<line x1="140.59" y1="397.50" x2="140.59" y2="401.50" stroke="#000" stroke-width="1.4"/>
<line x1="104.90" y1="373.90" x2="108.90" y2="373.90" stroke="#000" stroke-width="1.4"/>
<line x1="142.77" y1="397.50" x2="142.77" y2="401.50" stroke="#000" stroke-width="1.4"/>
<line x1="104.90" y1="372.28" x2="108.90" y2="372.28" stroke="#000" stroke-width="1.4"/>
<line x1="144.68" y1="397.50" x2="144.68" y2="401.50" stroke="#000" stroke-width="1.4"/>
<line x1="104.90" y1="370.85" x2="108.90" y2="370.85" stroke="#000" stroke-width="1.4"/>
<line x1="146.40" y1="397.50" x2="146.40" y2="404.00" stroke="#000" stroke-width="1.4"/>
<line x1="102.40" y1="369.57" x2="108.90" y2="369.57" stroke="#000" stroke-width="1.4"/>
<line x1="157.69" y1="397.50" x2="157.69" y2="401.50" stroke="#000" stroke-width="1.4"/>
<line x1="104.90" y1="361.17" x2="108.90" y2="361.17" stroke="#000" stroke-width="1.4"/>
<line x1="164.29" y1="397.50" x2="164.29" y2="401.50" stroke="#000" stroke-width="1.4"/>
<line x1="104.90" y1="356.25" x2="108.90" y2="356.25" stroke="#000" stroke-width="1.4"/>
<line x1="168.98" y1="397.50" x2="168.98" y2="401.50" stroke="#000" stroke-width="1.4"/>
<line x1="104.90" y1="352.76" x2="108.90" y2="352.76" stroke="#000" stroke-width="1.4"/>
<line x1="172.61" y1="397.50" x2="172.61" y2="401.50" stroke="#000" stroke-width="1.4"/>
<line x1="104.90" y1="350.06" x2="108.90" y2="350.06" stroke="#000" stroke-width="1.4"/>
<line x1="175.58" y1="397.50" x2="175.58" y2="401.50" stroke="#000" stroke-width="1.4"/>
<line x1="104.90" y1="347.85" x2="108.90" y2="347.85" stroke="#000" stroke-width="1.4"/>
<line x1="178.09" y1="397.50" x2="178.09" y2="401.50" stroke="#000" stroke-width="1.4"/>
<line x1="104.90" y1="345.98" x2="108.90" y2="345.98" stroke="#000" stroke-width="1.4"/>
<line x1="180.27" y1="397.50" x2="180.27" y2="401.50" stroke="#000" stroke-width="1.4"/>
<line x1="104.90" y1="344.36" x2="108.90" y2="344.36" stroke="#000" stroke-width="1.4"/>
<line x1="182.18" y1="397.50" x2="182.18" y2="401.50" stroke="#000" stroke-width="1.4"/>
<line x1="104.90" y1="342.93" x2="108.90" y2="342.93" stroke="#000" stroke-width="1.4"/>
<line x1="183.90" y1="397.50" x2="183.90" y2="404.00" stroke="#000" stroke-width="1.4"/>
<line x1="102.40" y1="341.65" x2="108.90" y2="341.65" stroke="#000" stroke-width="1.4"/>
<line x1="195.19" y1="397.50" x2="195.19" y2="401.50" stroke="#000" stroke-width="1.4"/>
<line x1="104.90" y1="333.24" x2="108.90" y2="333.24" stroke="#000" stroke-width="1.4"/>
<line x1="201.79" y1="397.50" x2="201.79" y2="401.50" stroke="#000" stroke-width="1.4"/>
<line x1="104.90" y1="328.33" x2="108.90" y2="328.33" stroke="#000" stroke-width="1.4"/>
<line x1="206.48" y1="397.50" x2="206.48" y2="401.50" stroke="#000" stroke-width="1.4"/>
<line x1="104.90" y1="324.84" x2="108.90" y2="324.84" stroke="#000" stroke-width="1.4"/>
<line x1="210.11" y1="397.50" x2="210.11" y2="401.50" stroke="#000" stroke-width="1.4"/>
<line x1="104.90" y1="322.13" x2="108.90" y2="322.13" stroke="#000" stroke-width="1.4"/>
<line x1="213.08" y1="397.50" x2="213.08" y2="401.50" stroke="#000" stroke-width="1.4"/>
<line x1="104.90" y1="319.92" x2="108.90" y2="319.92" stroke="#000" stroke-width="1.4"/>
<line x1="215.59" y1="397.50" x2="215.59" y2="401.50" stroke="#000" stroke-width="1.4"/>
<line x1="104.90" y1="318.05" x2="108.90" y2="318.05" stroke="#000" stroke-width="1.4"/>
<line x1="217.77" y1="397.50" x2="217.77" y2="401.50" stroke="#000" stroke-width="1.4"/>
<line x1="104.90" y1="316.43" x2="108.90" y2="316.43" stroke="#000" stroke-width="1.4"/>
<line x1="219.68" y1="397.50" x2="219.68" y2="401.50" stroke="#000" stroke-width="1.4"/>
<line x1="104.90" y1="315.00" x2="108.90" y2="315.00" stroke="#000" stroke-width="1.4"/>
<line x1="221.40" y1="397.50" x2="221.40" y2="404.00" stroke="#000" stroke-width="1.4"/>
<line x1="102.40" y1="313.73" x2="108.90" y2="313.73" stroke="#000" stroke-width="1.4"/>
<line x1="232.69" y1="397.50" x2="232.69" y2="401.50" stroke="#000" stroke-width="1.4"/>
<line x1="104.90" y1="305.32" x2="108.90" y2="305.32" stroke="#000" stroke-width="1.4"/>
<line x1="239.29" y1="397.50" x2="239.29" y2="401.50" stroke="#000" stroke-width="1.4"/>
<line x1="104.90" y1="300.40" x2="108.90" y2="300.40" stroke="#000" stroke-width="1.4"/>
<line x1="243.98" y1="397.50" x2="243.98" y2="401.50" stroke="#000" stroke-width="1.4"/>
<line x1="104.90" y1="296.91" x2="108.90" y2="296.91" stroke="#000" stroke-width="1.4"/>
<line x1="247.61" y1="397.50" x2="247.61" y2="401.50" stroke="#000" stroke-width="1.4"/>
<line x1="104.90" y1="294.21" x2="108.90" y2="294.21" stroke="#000" stroke-width="1.4"/>
<line x1="250.58" y1="397.50" x2="250.58" y2="401.50" stroke="#000" stroke-width="1.4"/>
<line x1="104.90" y1="292.00" x2="108.90" y2="292.00" stroke="#000" stroke-width="1.4"/>
<line x1="253.09" y1="397.50" x2="253.09" y2="401.50" stroke="#000" stroke-width="1.4"/>
<line x1="104.90" y1="290.13" x2="108.90" y2="290.13" stroke="#000" stroke-width="1.4"/>
<line x1="255.27" y1="397.50" x2="255.27" y2="401.50" stroke="#000" stroke-width="1.4"/>
<line x1="104.90" y1="288.51" x2="108.90" y2="288.51" stroke="#000" stroke-width="1.4"/>
<line x1="257.18" y1="397.50" x2="257.18" y2="401.50" stroke="#000" stroke-width="1.4"/>
<line x1="104.90" y1="287.08" x2="108.90" y2="287.08" stroke="#000" stroke-width="1.4"/>
<line x1="258.90" y1="397.50" x2="258.90" y2="404.00" stroke="#000" stroke-width="1.4"/>
<line x1="102.40" y1="285.80" x2="108.90" y2="285.80" stroke="#000" stroke-width="1.4"/>
<text transform="translate(109.90,419.30) scale(0.86,1)" font-size="13" text-anchor="middle" stroke="#000" stroke-width="0.3">10<tspan dy="-7">0</tspan></text>
<text transform="translate(97.60,397.80) rotate(-90) scale(0.86,1)" font-size="13" text-anchor="middle" stroke="#000" stroke-width="0.3">10<tspan dy="-6">0</tspan></text>
<text transform="translate(147.40,419.30) scale(0.86,1)" font-size="13" text-anchor="middle" stroke="#000" stroke-width="0.3">10<tspan dy="-7">1</tspan></text>
<text transform="translate(97.60,369.88) rotate(-90) scale(0.86,1)" font-size="13" text-anchor="middle" stroke="#000" stroke-width="0.3">10<tspan dy="-6">1</tspan></text>
<text transform="translate(184.90,419.30) scale(0.86,1)" font-size="13" text-anchor="middle" stroke="#000" stroke-width="0.3">10<tspan dy="-7">2</tspan></text>
<text transform="translate(97.60,341.95) rotate(-90) scale(0.86,1)" font-size="13" text-anchor="middle" stroke="#000" stroke-width="0.3">10<tspan dy="-6">2</tspan></text>
<text transform="translate(222.40,419.30) scale(0.86,1)" font-size="13" text-anchor="middle" stroke="#000" stroke-width="0.3">10<tspan dy="-7">3</tspan></text>
<text transform="translate(97.60,314.03) rotate(-90) scale(0.86,1)" font-size="13" text-anchor="middle" stroke="#000" stroke-width="0.3">10<tspan dy="-6">3</tspan></text>
<text transform="translate(259.90,419.30) scale(0.86,1)" font-size="13" text-anchor="middle" stroke="#000" stroke-width="0.3">10<tspan dy="-7">4</tspan></text>
<text transform="translate(97.60,286.10) rotate(-90) scale(0.86,1)" font-size="13" text-anchor="middle" stroke="#000" stroke-width="0.3">10<tspan dy="-6">4</tspan></text>
<text transform="translate(200.40,432.00)" font-size="12.5" text-anchor="middle" font-weight="normal">FITC</text>
<text transform="translate(80.60,327.40) rotate(-90) scale(0.97,1)" font-size="13.5" text-anchor="middle" font-weight="normal">PE</text>
<text transform="translate(113.60,306.20) scale(1.08,1)" font-size="16.6" text-anchor="start" font-weight="bold">1.5</text>
<text transform="translate(253.00,304.30) scale(1.08,1)" font-size="16.6" text-anchor="end" font-weight="bold">88.6</text>
<text transform="translate(113.40,394.30) scale(1.08,1)" font-size="16.6" text-anchor="start" font-weight="bold">5.4</text>
<text transform="translate(253.30,394.30) scale(1.08,1)" font-size="16.6" text-anchor="end" font-weight="bold">4.5</text>
<path d="M337 346h1v1h-1zM337 350h1v1h-1zM337 368h1v1h-1zM337 369h1v1h-1zM337 370h1v1h-1zM337 371h1v1h-1zM337 372h1v1h-1zM337 375h1v1h-1zM337 377h1v1h-1zM337 378h1v1h-1zM337 379h1v1h-1zM337 380h1v1h-1zM337 381h1v1h-1zM337 382h1v1h-1zM337 383h1v1h-1zM337 385h1v1h-1zM337 386h1v1h-1zM337 387h1v1h-1zM337 388h1v1h-1zM337 389h1v1h-1zM337 390h1v1h-1zM337 391h1v1h-1zM337 392h1v1h-1zM337 393h1v1h-1zM337 394h1v1h-1zM337 395h1v1h-1zM338 338h1v1h-1zM338 339h1v1h-1zM338 366h1v1h-1zM338 368h1v1h-1zM338 369h1v1h-1zM338 370h1v1h-1zM338 371h1v1h-1zM338 373h1v1h-1zM338 374h1v1h-1zM338 375h1v1h-1zM338 376h1v1h-1zM338 377h1v1h-1zM338 378h1v1h-1zM338 379h1v1h-1zM338 380h1v1h-1zM338 381h1v1h-1zM338 383h1v1h-1zM338 384h1v1h-1zM338 385h1v1h-1zM338 386h1v1h-1zM338 387h1v1h-1zM338 388h1v1h-1zM338 389h1v1h-1zM338 390h1v1h-1zM338 391h1v1h-1zM338 392h1v1h-1zM338 393h1v1h-1zM338 394h1v1h-1zM338 395h1v1h-1zM339 369h1v1h-1zM339 371h1v1h-1zM339 372h1v1h-1zM339 375h1v1h-1zM339 376h1v1h-1zM339 377h1v1h-1zM339 378h1v1h-1zM339 379h1v1h-1zM339 380h1v1h-1zM339 381h1v1h-1zM339 382h1v1h-1zM339 383h1v1h-1zM339 385h1v1h-1zM339 386h1v1h-1zM339 387h1v1h-1zM339 388h1v1h-1zM339 389h1v1h-1zM339 390h1v1h-1zM339 391h1v1h-1zM339 392h1v1h-1zM339 393h1v1h-1zM339 394h1v1h-1zM339 395h1v1h-1zM340 346h1v1h-1zM340 368h1v1h-1zM340 370h1v1h-1zM340 371h1v1h-1zM340 373h1v1h-1zM340 375h1v1h-1zM340 376h1v1h-1zM340 377h1v1h-1zM340 378h1v1h-1zM340 379h1v1h-1zM340 380h1v1h-1zM340 381h1v1h-1zM340 382h1v1h-1zM340 383h1v1h-1zM340 384h1v1h-1zM340 385h1v1h-1zM340 386h1v1h-1zM340 387h1v1h-1zM340 388h1v1h-1zM340 389h1v1h-1zM340 390h1v1h-1zM340 391h1v1h-1zM340 392h1v1h-1zM340 393h1v1h-1zM340 394h1v1h-1zM340 395h1v1h-1zM341 341h1v1h-1zM341 345h1v1h-1zM341 367h1v1h-1zM341 368h1v1h-1zM341 369h1v1h-1zM341 370h1v1h-1zM341 372h1v1h-1zM341 373h1v1h-1zM341 374h1v1h-1zM341 375h1v1h-1zM341 376h1v1h-1zM341 377h1v1h-1zM341 378h1v1h-1zM341 379h1v1h-1zM341 380h1v1h-1zM341 381h1v1h-1zM341 382h1v1h-1zM341 383h1v1h-1zM341 384h1v1h-1zM341 385h1v1h-1zM341 386h1v1h-1zM341 387h1v1h-1zM341 388h1v1h-1zM341 389h1v1h-1zM341 391h1v1h-1zM341 392h1v1h-1zM341 393h1v1h-1zM341 394h1v1h-1zM341 395h1v1h-1zM342 368h1v1h-1zM342 370h1v1h-1zM342 372h1v1h-1zM342 374h1v1h-1zM342 375h1v1h-1zM342 376h1v1h-1zM342 377h1v1h-1zM342 379h1v1h-1zM342 380h1v1h-1zM342 381h1v1h-1zM342 382h1v1h-1zM342 383h1v1h-1zM342 384h1v1h-1zM342 385h1v1h-1zM342 386h1v1h-1zM342 387h1v1h-1zM342 388h1v1h-1zM342 389h1v1h-1zM342 390h1v1h-1zM342 391h1v1h-1zM342 392h1v1h-1zM342 393h1v1h-1zM342 394h1v1h-1zM342 395h1v1h-1zM343 346h1v1h-1zM343 347h1v1h-1zM343 355h1v1h-1zM343 357h1v1h-1zM343 369h1v1h-1zM343 372h1v1h-1zM343 373h1v1h-1zM343 374h1v1h-1zM343 376h1v1h-1zM343 377h1v1h-1zM343 378h1v1h-1zM343 379h1v1h-1zM343 380h1v1h-1zM343 381h1v1h-1zM343 382h1v1h-1zM343 383h1v1h-1zM343 384h1v1h-1zM343 385h1v1h-1zM343 386h1v1h-1zM343 387h1v1h-1zM343 388h1v1h-1zM343 389h1v1h-1zM343 390h1v1h-1zM343 391h1v1h-1zM343 392h1v1h-1zM343 393h1v1h-1zM343 394h1v1h-1zM343 395h1v1h-1zM344 336h1v1h-1zM344 370h1v1h-1zM344 371h1v1h-1zM344 372h1v1h-1zM344 373h1v1h-1zM344 374h1v1h-1zM344 375h1v1h-1zM344 376h1v1h-1zM344 377h1v1h-1zM344 378h1v1h-1zM344 379h1v1h-1zM344 380h1v1h-1zM344 381h1v1h-1zM344 382h1v1h-1zM344 384h1v1h-1zM344 385h1v1h-1zM344 386h1v1h-1zM344 387h1v1h-1zM344 388h1v1h-1zM344 389h1v1h-1zM344 390h1v1h-1zM344 391h1v1h-1zM344 392h1v1h-1zM344 393h1v1h-1zM344 394h1v1h-1zM345 351h1v1h-1zM345 369h1v1h-1zM345 370h1v1h-1zM345 371h1v1h-1zM345 372h1v1h-1zM345 373h1v1h-1zM345 374h1v1h-1zM345 375h1v1h-1zM345 376h1v1h-1zM345 377h1v1h-1zM345 378h1v1h-1zM345 379h1v1h-1zM345 380h1v1h-1zM345 381h1v1h-1zM345 382h1v1h-1zM345 383h1v1h-1zM345 385h1v1h-1zM345 387h1v1h-1zM345 388h1v1h-1zM345 389h1v1h-1zM345 390h1v1h-1zM345 392h1v1h-1zM345 393h1v1h-1zM345 394h1v1h-1zM345 395h1v1h-1zM346 341h1v1h-1zM346 369h1v1h-1zM346 370h1v1h-1zM346 372h1v1h-1zM346 373h1v1h-1zM346 374h1v1h-1zM346 375h1v1h-1zM346 376h1v1h-1zM346 377h1v1h-1zM346 378h1v1h-1zM346 379h1v1h-1zM346 380h1v1h-1zM346 381h1v1h-1zM346 382h1v1h-1zM346 383h1v1h-1zM346 384h1v1h-1zM346 385h1v1h-1zM346 386h1v1h-1zM346 387h1v1h-1zM346 388h1v1h-1zM346 389h1v1h-1zM346 390h1v1h-1zM346 391h1v1h-1zM346 393h1v1h-1zM346 395h1v1h-1zM347 367h1v1h-1zM347 368h1v1h-1zM347 369h1v1h-1zM347 370h1v1h-1zM347 372h1v1h-1zM347 373h1v1h-1zM347 374h1v1h-1zM347 375h1v1h-1zM347 376h1v1h-1zM347 377h1v1h-1zM347 378h1v1h-1zM347 379h1v1h-1zM347 380h1v1h-1zM347 381h1v1h-1zM347 382h1v1h-1zM347 383h1v1h-1zM347 385h1v1h-1zM347 386h1v1h-1zM347 387h1v1h-1zM347 388h1v1h-1zM347 389h1v1h-1zM347 390h1v1h-1zM347 391h1v1h-1zM347 392h1v1h-1zM347 393h1v1h-1zM347 394h1v1h-1zM347 395h1v1h-1zM348 342h1v1h-1zM348 348h1v1h-1zM348 369h1v1h-1zM348 370h1v1h-1zM348 371h1v1h-1zM348 373h1v1h-1zM348 374h1v1h-1zM348 375h1v1h-1zM348 376h1v1h-1zM348 377h1v1h-1zM348 378h1v1h-1zM348 379h1v1h-1zM348 380h1v1h-1zM348 381h1v1h-1zM348 382h1v1h-1zM348 383h1v1h-1zM348 384h1v1h-1zM348 385h1v1h-1zM348 386h1v1h-1zM348 387h1v1h-1zM348 388h1v1h-1zM348 389h1v1h-1zM348 390h1v1h-1zM348 391h1v1h-1zM348 392h1v1h-1zM348 393h1v1h-1zM348 395h1v1h-1zM349 342h1v1h-1zM349 346h1v1h-1zM349 350h1v1h-1zM349 368h1v1h-1zM349 369h1v1h-1zM349 370h1v1h-1zM349 372h1v1h-1zM349 373h1v1h-1zM349 374h1v1h-1zM349 375h1v1h-1zM349 376h1v1h-1zM349 377h1v1h-1zM349 378h1v1h-1zM349 379h1v1h-1zM349 380h1v1h-1zM349 381h1v1h-1zM349 382h1v1h-1zM349 383h1v1h-1zM349 384h1v1h-1zM349 385h1v1h-1zM349 386h1v1h-1zM349 387h1v1h-1zM349 388h1v1h-1zM349 389h1v1h-1zM349 390h1v1h-1zM349 391h1v1h-1zM349 392h1v1h-1zM349 393h1v1h-1zM349 394h1v1h-1zM349 395h1v1h-1zM350 349h1v1h-1zM350 354h1v1h-1zM350 369h1v1h-1zM350 371h1v1h-1zM350 372h1v1h-1zM350 373h1v1h-1zM350 375h1v1h-1zM350 376h1v1h-1zM350 377h1v1h-1zM350 378h1v1h-1zM350 379h1v1h-1zM350 380h1v1h-1zM350 381h1v1h-1zM350 382h1v1h-1zM350 383h1v1h-1zM350 385h1v1h-1zM350 386h1v1h-1zM350 387h1v1h-1zM350 388h1v1h-1zM350 389h1v1h-1zM350 391h1v1h-1zM350 392h1v1h-1zM350 394h1v1h-1zM350 395h1v1h-1zM351 369h1v1h-1zM351 370h1v1h-1zM351 371h1v1h-1zM351 372h1v1h-1zM351 373h1v1h-1zM351 375h1v1h-1zM351 376h1v1h-1zM351 377h1v1h-1zM351 378h1v1h-1zM351 380h1v1h-1zM351 381h1v1h-1zM351 382h1v1h-1zM351 383h1v1h-1zM351 384h1v1h-1zM351 385h1v1h-1zM351 386h1v1h-1zM351 387h1v1h-1zM351 388h1v1h-1zM351 389h1v1h-1zM351 390h1v1h-1zM351 391h1v1h-1zM351 392h1v1h-1zM351 393h1v1h-1zM351 394h1v1h-1zM351 395h1v1h-1zM352 337h1v1h-1zM352 345h1v1h-1zM352 351h1v1h-1zM352 369h1v1h-1zM352 370h1v1h-1zM352 371h1v1h-1zM352 372h1v1h-1zM352 373h1v1h-1zM352 374h1v1h-1zM352 375h1v1h-1zM352 376h1v1h-1zM352 378h1v1h-1zM352 379h1v1h-1zM352 380h1v1h-1zM352 381h1v1h-1zM352 382h1v1h-1zM352 384h1v1h-1zM352 385h1v1h-1zM352 386h1v1h-1zM352 388h1v1h-1zM352 389h1v1h-1zM352 390h1v1h-1zM352 391h1v1h-1zM352 392h1v1h-1zM352 393h1v1h-1zM352 394h1v1h-1zM352 395h1v1h-1zM353 336h1v1h-1zM353 337h1v1h-1zM353 342h1v1h-1zM353 344h1v1h-1zM353 350h1v1h-1zM353 351h1v1h-1zM353 353h1v1h-1zM353 354h1v1h-1zM353 367h1v1h-1zM353 369h1v1h-1zM353 371h1v1h-1zM353 372h1v1h-1zM353 373h1v1h-1zM353 374h1v1h-1zM353 375h1v1h-1zM353 376h1v1h-1zM353 377h1v1h-1zM353 378h1v1h-1zM353 379h1v1h-1zM353 380h1v1h-1zM353 381h1v1h-1zM353 383h1v1h-1zM353 384h1v1h-1zM353 385h1v1h-1zM353 386h1v1h-1zM353 387h1v1h-1zM353 388h1v1h-1zM353 389h1v1h-1zM353 390h1v1h-1zM353 391h1v1h-1zM353 392h1v1h-1zM353 393h1v1h-1zM353 394h1v1h-1zM353 395h1v1h-1zM354 340h1v1h-1zM354 343h1v1h-1zM354 346h1v1h-1zM354 348h1v1h-1zM354 351h1v1h-1zM354 370h1v1h-1zM354 372h1v1h-1zM354 373h1v1h-1zM354 374h1v1h-1zM354 375h1v1h-1zM354 376h1v1h-1zM354 377h1v1h-1zM354 378h1v1h-1zM354 379h1v1h-1zM354 380h1v1h-1zM354 381h1v1h-1zM354 382h1v1h-1zM354 383h1v1h-1zM354 384h1v1h-1zM354 385h1v1h-1zM354 386h1v1h-1zM354 387h1v1h-1zM354 388h1v1h-1zM354 389h1v1h-1zM354 390h1v1h-1zM354 391h1v1h-1zM354 392h1v1h-1zM354 393h1v1h-1zM354 394h1v1h-1zM354 395h1v1h-1zM355 337h1v1h-1zM355 339h1v1h-1zM355 346h1v1h-1zM355 347h1v1h-1zM355 353h1v1h-1zM355 368h1v1h-1zM355 369h1v1h-1zM355 370h1v1h-1zM355 371h1v1h-1zM355 372h1v1h-1zM355 373h1v1h-1zM355 374h1v1h-1zM355 375h1v1h-1zM355 376h1v1h-1zM355 377h1v1h-1zM355 378h1v1h-1zM355 379h1v1h-1zM355 380h1v1h-1zM355 381h1v1h-1zM355 382h1v1h-1zM355 383h1v1h-1zM355 384h1v1h-1zM355 385h1v1h-1zM355 386h1v1h-1zM355 387h1v1h-1zM355 388h1v1h-1zM355 389h1v1h-1zM355 390h1v1h-1zM355 391h1v1h-1zM355 392h1v1h-1zM355 393h1v1h-1zM355 394h1v1h-1zM355 395h1v1h-1zM356 338h1v1h-1zM356 346h1v1h-1zM356 348h1v1h-1zM356 350h1v1h-1zM356 368h1v1h-1zM356 370h1v1h-1zM356 371h1v1h-1zM356 372h1v1h-1zM356 374h1v1h-1zM356 375h1v1h-1zM356 376h1v1h-1zM356 377h1v1h-1zM356 378h1v1h-1zM356 379h1v1h-1zM356 380h1v1h-1zM356 381h1v1h-1zM356 382h1v1h-1zM356 384h1v1h-1zM356 385h1v1h-1zM356 386h1v1h-1zM356 387h1v1h-1zM356 388h1v1h-1zM356 389h1v1h-1zM356 391h1v1h-1zM356 392h1v1h-1zM356 393h1v1h-1zM356 394h1v1h-1zM356 395h1v1h-1zM357 339h1v1h-1zM357 340h1v1h-1zM357 343h1v1h-1zM357 346h1v1h-1zM357 347h1v1h-1zM357 368h1v1h-1zM357 369h1v1h-1zM357 370h1v1h-1zM357 371h1v1h-1zM357 372h1v1h-1zM357 373h1v1h-1zM357 374h1v1h-1zM357 375h1v1h-1zM357 376h1v1h-1zM357 377h1v1h-1zM357 379h1v1h-1zM357 380h1v1h-1zM357 381h1v1h-1zM357 382h1v1h-1zM357 383h1v1h-1zM357 384h1v1h-1zM357 385h1v1h-1zM357 386h1v1h-1zM357 387h1v1h-1zM357 388h1v1h-1zM357 389h1v1h-1zM357 390h1v1h-1zM357 391h1v1h-1zM357 392h1v1h-1zM357 393h1v1h-1zM357 394h1v1h-1zM357 395h1v1h-1zM358 339h1v1h-1zM358 342h1v1h-1zM358 343h1v1h-1zM358 344h1v1h-1zM358 350h1v1h-1zM358 354h1v1h-1zM358 369h1v1h-1zM358 370h1v1h-1zM358 372h1v1h-1zM358 373h1v1h-1zM358 374h1v1h-1zM358 375h1v1h-1zM358 376h1v1h-1zM358 377h1v1h-1zM358 378h1v1h-1zM358 379h1v1h-1zM358 380h1v1h-1zM358 381h1v1h-1zM358 382h1v1h-1zM358 383h1v1h-1zM358 384h1v1h-1zM358 385h1v1h-1zM358 387h1v1h-1zM358 388h1v1h-1zM358 390h1v1h-1zM358 391h1v1h-1zM358 393h1v1h-1zM358 394h1v1h-1zM358 395h1v1h-1zM359 348h1v1h-1zM359 350h1v1h-1zM359 352h1v1h-1zM359 368h1v1h-1zM359 369h1v1h-1zM359 370h1v1h-1zM359 372h1v1h-1zM359 374h1v1h-1zM359 375h1v1h-1zM359 376h1v1h-1zM359 377h1v1h-1zM359 378h1v1h-1zM359 379h1v1h-1zM359 380h1v1h-1zM359 381h1v1h-1zM359 382h1v1h-1zM359 384h1v1h-1zM359 385h1v1h-1zM359 386h1v1h-1zM359 387h1v1h-1zM359 388h1v1h-1zM359 389h1v1h-1zM359 390h1v1h-1zM359 391h1v1h-1zM359 392h1v1h-1zM359 393h1v1h-1zM359 394h1v1h-1zM359 395h1v1h-1zM360 338h1v1h-1zM360 341h1v1h-1zM360 347h1v1h-1zM360 348h1v1h-1zM360 349h1v1h-1zM360 350h1v1h-1zM360 368h1v1h-1zM360 369h1v1h-1zM360 370h1v1h-1zM360 371h1v1h-1zM360 372h1v1h-1zM360 373h1v1h-1zM360 374h1v1h-1zM360 375h1v1h-1zM360 376h1v1h-1zM360 377h1v1h-1zM360 378h1v1h-1zM360 379h1v1h-1zM360 380h1v1h-1zM360 381h1v1h-1zM360 382h1v1h-1zM360 383h1v1h-1zM360 384h1v1h-1zM360 385h1v1h-1zM360 386h1v1h-1zM360 387h1v1h-1zM360 388h1v1h-1zM360 389h1v1h-1zM360 390h1v1h-1zM360 392h1v1h-1zM360 393h1v1h-1zM360 394h1v1h-1zM360 395h1v1h-1zM361 341h1v1h-1zM361 343h1v1h-1zM361 344h1v1h-1zM361 349h1v1h-1zM361 351h1v1h-1zM361 368h1v1h-1zM361 369h1v1h-1zM361 370h1v1h-1zM361 371h1v1h-1zM361 372h1v1h-1zM361 373h1v1h-1zM361 374h1v1h-1zM361 375h1v1h-1zM361 376h1v1h-1zM361 377h1v1h-1zM361 378h1v1h-1zM361 379h1v1h-1zM361 380h1v1h-1zM361 381h1v1h-1zM361 382h1v1h-1zM361 383h1v1h-1zM361 384h1v1h-1zM361 385h1v1h-1zM361 386h1v1h-1zM361 387h1v1h-1zM361 388h1v1h-1zM361 389h1v1h-1zM361 390h1v1h-1zM361 391h1v1h-1zM361 392h1v1h-1zM361 393h1v1h-1zM361 394h1v1h-1zM361 395h1v1h-1zM362 340h1v1h-1zM362 344h1v1h-1zM362 346h1v1h-1zM362 347h1v1h-1zM362 350h1v1h-1zM362 367h1v1h-1zM362 368h1v1h-1zM362 369h1v1h-1zM362 372h1v1h-1zM362 373h1v1h-1zM362 374h1v1h-1zM362 375h1v1h-1zM362 376h1v1h-1zM362 377h1v1h-1zM362 378h1v1h-1zM362 379h1v1h-1zM362 380h1v1h-1zM362 381h1v1h-1zM362 382h1v1h-1zM362 384h1v1h-1zM362 385h1v1h-1zM362 386h1v1h-1zM362 387h1v1h-1zM362 388h1v1h-1zM362 389h1v1h-1zM362 390h1v1h-1zM362 391h1v1h-1zM362 392h1v1h-1zM362 393h1v1h-1zM362 394h1v1h-1zM362 395h1v1h-1zM363 344h1v1h-1zM363 347h1v1h-1zM363 349h1v1h-1zM363 352h1v1h-1zM363 368h1v1h-1zM363 370h1v1h-1zM363 371h1v1h-1zM363 372h1v1h-1zM363 373h1v1h-1zM363 374h1v1h-1zM363 375h1v1h-1zM363 376h1v1h-1zM363 377h1v1h-1zM363 378h1v1h-1zM363 379h1v1h-1zM363 381h1v1h-1zM363 382h1v1h-1zM363 383h1v1h-1zM363 384h1v1h-1zM363 385h1v1h-1zM363 386h1v1h-1zM363 387h1v1h-1zM363 388h1v1h-1zM363 389h1v1h-1zM363 390h1v1h-1zM363 391h1v1h-1zM363 392h1v1h-1zM363 393h1v1h-1zM363 394h1v1h-1zM363 395h1v1h-1zM364 339h1v1h-1zM364 343h1v1h-1zM364 353h1v1h-1zM364 368h1v1h-1zM364 370h1v1h-1zM364 372h1v1h-1zM364 373h1v1h-1zM364 374h1v1h-1zM364 375h1v1h-1zM364 376h1v1h-1zM364 377h1v1h-1zM364 378h1v1h-1zM364 379h1v1h-1zM364 380h1v1h-1zM364 381h1v1h-1zM364 382h1v1h-1zM364 383h1v1h-1zM364 384h1v1h-1zM364 385h1v1h-1zM364 386h1v1h-1zM364 387h1v1h-1zM364 388h1v1h-1zM364 389h1v1h-1zM364 390h1v1h-1zM364 391h1v1h-1zM364 392h1v1h-1zM364 393h1v1h-1zM364 394h1v1h-1zM364 395h1v1h-1zM365 340h1v1h-1zM365 341h1v1h-1zM365 344h1v1h-1zM365 347h1v1h-1zM365 353h1v1h-1zM365 368h1v1h-1zM365 370h1v1h-1zM365 372h1v1h-1zM365 373h1v1h-1zM365 375h1v1h-1zM365 376h1v1h-1zM365 377h1v1h-1zM365 378h1v1h-1zM365 379h1v1h-1zM365 380h1v1h-1zM365 381h1v1h-1zM365 382h1v1h-1zM365 383h1v1h-1zM365 384h1v1h-1zM365 385h1v1h-1zM365 386h1v1h-1zM365 387h1v1h-1zM365 388h1v1h-1zM365 389h1v1h-1zM365 390h1v1h-1zM365 391h1v1h-1zM365 392h1v1h-1zM365 393h1v1h-1zM365 394h1v1h-1zM365 395h1v1h-1zM366 338h1v1h-1zM366 340h1v1h-1zM366 343h1v1h-1zM366 346h1v1h-1zM366 349h1v1h-1zM366 354h1v1h-1zM366 356h1v1h-1zM366 369h1v1h-1zM366 370h1v1h-1zM366 371h1v1h-1zM366 372h1v1h-1zM366 373h1v1h-1zM366 374h1v1h-1zM366 375h1v1h-1zM366 376h1v1h-1zM366 392h1v1h-1zM366 394h1v1h-1zM367 340h1v1h-1zM367 342h1v1h-1zM367 344h1v1h-1zM367 345h1v1h-1zM367 347h1v1h-1zM367 348h1v1h-1zM367 368h1v1h-1zM367 369h1v1h-1zM367 370h1v1h-1zM367 371h1v1h-1zM367 373h1v1h-1zM367 374h1v1h-1zM367 375h1v1h-1zM367 376h1v1h-1zM367 379h1v1h-1zM367 386h1v1h-1zM367 387h1v1h-1zM367 391h1v1h-1zM367 394h1v1h-1zM368 338h1v1h-1zM368 340h1v1h-1zM368 341h1v1h-1zM368 345h1v1h-1zM368 346h1v1h-1zM368 349h1v1h-1zM368 369h1v1h-1zM368 370h1v1h-1zM368 372h1v1h-1zM368 373h1v1h-1zM368 374h1v1h-1zM368 375h1v1h-1zM368 378h1v1h-1zM368 383h1v1h-1zM368 388h1v1h-1zM368 391h1v1h-1zM369 337h1v1h-1zM369 339h1v1h-1zM369 344h1v1h-1zM369 345h1v1h-1zM369 348h1v1h-1zM369 350h1v1h-1zM369 356h1v1h-1zM369 357h1v1h-1zM369 366h1v1h-1zM369 368h1v1h-1zM369 369h1v1h-1zM369 370h1v1h-1zM369 371h1v1h-1zM369 372h1v1h-1zM369 373h1v1h-1zM369 374h1v1h-1zM369 375h1v1h-1zM369 376h1v1h-1zM369 377h1v1h-1zM369 378h1v1h-1zM369 379h1v1h-1zM369 382h1v1h-1zM369 383h1v1h-1zM369 394h1v1h-1zM370 339h1v1h-1zM370 340h1v1h-1zM370 343h1v1h-1zM370 344h1v1h-1zM370 345h1v1h-1zM370 347h1v1h-1zM370 350h1v1h-1zM370 368h1v1h-1zM370 369h1v1h-1zM370 371h1v1h-1zM370 372h1v1h-1zM370 373h1v1h-1zM370 374h1v1h-1zM370 375h1v1h-1zM370 378h1v1h-1zM370 379h1v1h-1zM370 380h1v1h-1zM370 381h1v1h-1zM370 382h1v1h-1zM370 392h1v1h-1zM370 394h1v1h-1zM371 343h1v1h-1zM371 344h1v1h-1zM371 345h1v1h-1zM371 346h1v1h-1zM371 348h1v1h-1zM371 354h1v1h-1zM371 355h1v1h-1zM371 368h1v1h-1zM371 369h1v1h-1zM371 371h1v1h-1zM371 372h1v1h-1zM371 373h1v1h-1zM371 375h1v1h-1zM371 378h1v1h-1zM371 380h1v1h-1zM371 381h1v1h-1zM371 385h1v1h-1zM371 388h1v1h-1zM371 389h1v1h-1zM371 392h1v1h-1zM371 395h1v1h-1zM372 341h1v1h-1zM372 344h1v1h-1zM372 346h1v1h-1zM372 349h1v1h-1zM372 353h1v1h-1zM372 368h1v1h-1zM372 370h1v1h-1zM372 371h1v1h-1zM372 372h1v1h-1zM372 373h1v1h-1zM372 374h1v1h-1zM372 375h1v1h-1zM372 376h1v1h-1zM372 384h1v1h-1zM372 388h1v1h-1zM372 390h1v1h-1zM372 392h1v1h-1zM373 342h1v1h-1zM373 346h1v1h-1zM373 347h1v1h-1zM373 351h1v1h-1zM373 355h1v1h-1zM373 368h1v1h-1zM373 369h1v1h-1zM373 371h1v1h-1zM373 372h1v1h-1zM373 373h1v1h-1zM373 374h1v1h-1zM373 375h1v1h-1zM373 378h1v1h-1zM373 382h1v1h-1zM373 384h1v1h-1zM373 390h1v1h-1zM374 352h1v1h-1zM374 368h1v1h-1zM374 371h1v1h-1zM374 372h1v1h-1zM374 373h1v1h-1zM374 374h1v1h-1zM374 375h1v1h-1zM374 376h1v1h-1zM374 382h1v1h-1zM374 386h1v1h-1zM374 388h1v1h-1zM374 395h1v1h-1zM375 337h1v1h-1zM375 340h1v1h-1zM375 344h1v1h-1zM375 345h1v1h-1zM375 352h1v1h-1zM375 353h1v1h-1zM375 357h1v1h-1zM375 368h1v1h-1zM375 370h1v1h-1zM375 371h1v1h-1zM375 373h1v1h-1zM375 374h1v1h-1zM375 375h1v1h-1zM375 380h1v1h-1zM375 386h1v1h-1zM375 391h1v1h-1zM375 393h1v1h-1zM375 395h1v1h-1zM376 338h1v1h-1zM376 339h1v1h-1zM376 344h1v1h-1zM376 346h1v1h-1zM376 348h1v1h-1zM376 369h1v1h-1zM376 371h1v1h-1zM376 375h1v1h-1zM376 376h1v1h-1zM376 377h1v1h-1zM376 378h1v1h-1zM376 379h1v1h-1zM376 380h1v1h-1zM376 382h1v1h-1zM376 383h1v1h-1zM376 386h1v1h-1zM376 387h1v1h-1zM376 388h1v1h-1zM376 390h1v1h-1zM377 341h1v1h-1zM377 344h1v1h-1zM377 345h1v1h-1zM377 347h1v1h-1zM377 350h1v1h-1zM377 351h1v1h-1zM377 370h1v1h-1zM377 372h1v1h-1zM377 376h1v1h-1zM377 377h1v1h-1zM377 380h1v1h-1zM377 385h1v1h-1zM377 393h1v1h-1zM378 339h1v1h-1zM378 341h1v1h-1zM378 343h1v1h-1zM378 345h1v1h-1zM378 348h1v1h-1zM378 350h1v1h-1zM378 370h1v1h-1zM378 373h1v1h-1zM378 375h1v1h-1zM378 382h1v1h-1zM378 383h1v1h-1zM378 392h1v1h-1zM379 343h1v1h-1zM379 344h1v1h-1zM379 347h1v1h-1zM379 349h1v1h-1zM379 350h1v1h-1zM379 352h1v1h-1zM379 375h1v1h-1zM379 379h1v1h-1zM379 381h1v1h-1zM379 386h1v1h-1zM379 391h1v1h-1zM379 393h1v1h-1zM380 340h1v1h-1zM380 343h1v1h-1zM380 344h1v1h-1zM380 348h1v1h-1zM380 349h1v1h-1zM380 372h1v1h-1zM380 377h1v1h-1zM380 379h1v1h-1zM380 385h1v1h-1zM380 386h1v1h-1zM380 387h1v1h-1zM380 395h1v1h-1zM381 347h1v1h-1zM381 353h1v1h-1zM381 354h1v1h-1zM381 365h1v1h-1zM381 371h1v1h-1zM381 372h1v1h-1zM381 374h1v1h-1zM381 375h1v1h-1zM381 381h1v1h-1zM381 388h1v1h-1zM381 390h1v1h-1zM381 391h1v1h-1zM381 392h1v1h-1zM381 393h1v1h-1zM382 337h1v1h-1zM382 344h1v1h-1zM382 345h1v1h-1zM382 353h1v1h-1zM382 354h1v1h-1zM382 372h1v1h-1zM382 375h1v1h-1zM382 384h1v1h-1zM382 385h1v1h-1zM382 387h1v1h-1zM382 388h1v1h-1zM382 389h1v1h-1zM382 391h1v1h-1zM383 344h1v1h-1zM383 345h1v1h-1zM383 347h1v1h-1zM384 341h1v1h-1zM384 354h1v1h-1zM385 343h1v1h-1zM385 376h1v1h-1zM386 327h1v1h-1zM386 347h1v1h-1zM386 366h1v1h-1zM387 331h1v1h-1zM387 343h1v1h-1zM387 349h1v1h-1zM388 344h1v1h-1zM388 345h1v1h-1zM389 335h1v1h-1zM389 340h1v1h-1zM389 343h1v1h-1zM389 350h1v1h-1zM389 376h1v1h-1zM389 383h1v1h-1zM389 388h1v1h-1zM390 346h1v1h-1zM390 351h1v1h-1zM390 364h1v1h-1zM390 388h1v1h-1zM391 338h1v1h-1zM391 341h1v1h-1zM391 342h1v1h-1zM391 344h1v1h-1zM391 345h1v1h-1zM391 353h1v1h-1zM392 343h1v1h-1zM392 344h1v1h-1zM392 345h1v1h-1zM392 394h1v1h-1zM393 336h1v1h-1zM393 340h1v1h-1zM393 344h1v1h-1zM393 347h1v1h-1zM393 350h1v1h-1zM393 351h1v1h-1zM393 352h1v1h-1zM393 379h1v1h-1zM394 345h1v1h-1zM394 347h1v1h-1zM394 348h1v1h-1zM394 349h1v1h-1zM394 350h1v1h-1zM394 372h1v1h-1zM394 390h1v1h-1zM395 327h1v1h-1zM395 340h1v1h-1zM395 345h1v1h-1zM395 349h1v1h-1zM395 351h1v1h-1zM395 353h1v1h-1zM395 355h1v1h-1zM396 337h1v1h-1zM396 346h1v1h-1zM396 350h1v1h-1zM396 354h1v1h-1zM397 327h1v1h-1zM397 340h1v1h-1zM397 345h1v1h-1zM397 349h1v1h-1zM397 352h1v1h-1zM397 353h1v1h-1zM397 354h1v1h-1zM397 359h1v1h-1zM398 331h1v1h-1zM398 341h1v1h-1zM398 347h1v1h-1zM398 349h1v1h-1zM398 355h1v1h-1zM399 343h1v1h-1zM399 348h1v1h-1zM399 350h1v1h-1zM399 355h1v1h-1zM400 345h1v1h-1zM400 347h1v1h-1zM400 351h1v1h-1zM400 352h1v1h-1zM400 355h1v1h-1zM400 360h1v1h-1zM400 373h1v1h-1zM401 333h1v1h-1zM401 349h1v1h-1zM401 393h1v1h-1zM402 340h1v1h-1zM402 342h1v1h-1zM402 344h1v1h-1zM402 345h1v1h-1zM402 351h1v1h-1zM403 340h1v1h-1zM403 342h1v1h-1zM403 343h1v1h-1zM403 344h1v1h-1zM403 345h1v1h-1zM403 346h1v1h-1zM403 347h1v1h-1zM403 352h1v1h-1zM404 336h1v1h-1zM404 337h1v1h-1zM404 338h1v1h-1zM404 339h1v1h-1zM404 340h1v1h-1zM404 341h1v1h-1zM404 342h1v1h-1zM404 343h1v1h-1zM404 344h1v1h-1zM404 345h1v1h-1zM404 346h1v1h-1zM404 347h1v1h-1zM404 348h1v1h-1zM404 352h1v1h-1zM404 358h1v1h-1zM405 334h1v1h-1zM405 337h1v1h-1zM405 339h1v1h-1zM405 340h1v1h-1zM405 341h1v1h-1zM405 342h1v1h-1zM405 343h1v1h-1zM405 344h1v1h-1zM405 345h1v1h-1zM405 346h1v1h-1zM405 347h1v1h-1zM405 348h1v1h-1zM405 351h1v1h-1zM406 336h1v1h-1zM406 337h1v1h-1zM406 338h1v1h-1zM406 339h1v1h-1zM406 340h1v1h-1zM406 341h1v1h-1zM406 342h1v1h-1zM406 343h1v1h-1zM406 344h1v1h-1zM406 345h1v1h-1zM406 346h1v1h-1zM406 347h1v1h-1zM406 348h1v1h-1zM406 349h1v1h-1zM406 350h1v1h-1zM406 352h1v1h-1zM407 337h1v1h-1zM407 338h1v1h-1zM407 339h1v1h-1zM407 340h1v1h-1zM407 341h1v1h-1zM407 342h1v1h-1zM407 343h1v1h-1zM407 344h1v1h-1zM407 345h1v1h-1zM407 346h1v1h-1zM407 347h1v1h-1zM407 348h1v1h-1zM407 349h1v1h-1zM408 328h1v1h-1zM408 333h1v1h-1zM408 335h1v1h-1zM408 336h1v1h-1zM408 337h1v1h-1zM408 338h1v1h-1zM408 339h1v1h-1zM408 340h1v1h-1zM408 341h1v1h-1zM408 342h1v1h-1zM408 343h1v1h-1zM408 344h1v1h-1zM408 345h1v1h-1zM408 346h1v1h-1zM408 347h1v1h-1zM408 348h1v1h-1zM408 349h1v1h-1zM408 350h1v1h-1zM408 351h1v1h-1zM408 354h1v1h-1zM408 357h1v1h-1zM408 392h1v1h-1zM409 333h1v1h-1zM409 334h1v1h-1zM409 335h1v1h-1zM409 336h1v1h-1zM409 337h1v1h-1zM409 338h1v1h-1zM409 339h1v1h-1zM409 340h1v1h-1zM409 341h1v1h-1zM409 342h1v1h-1zM409 343h1v1h-1zM409 344h1v1h-1zM409 345h1v1h-1zM409 346h1v1h-1zM409 347h1v1h-1zM409 348h1v1h-1zM409 349h1v1h-1zM409 350h1v1h-1zM409 353h1v1h-1zM409 357h1v1h-1zM409 386h1v1h-1zM410 328h1v1h-1zM410 333h1v1h-1zM410 334h1v1h-1zM410 335h1v1h-1zM410 336h1v1h-1zM410 337h1v1h-1zM410 338h1v1h-1zM410 339h1v1h-1zM410 340h1v1h-1zM410 341h1v1h-1zM410 342h1v1h-1zM410 343h1v1h-1zM410 344h1v1h-1zM410 345h1v1h-1zM410 346h1v1h-1zM410 347h1v1h-1zM410 348h1v1h-1zM410 349h1v1h-1zM410 350h1v1h-1zM410 352h1v1h-1zM410 367h1v1h-1zM411 326h1v1h-1zM411 333h1v1h-1zM411 334h1v1h-1zM411 335h1v1h-1zM411 336h1v1h-1zM411 337h1v1h-1zM411 338h1v1h-1zM411 339h1v1h-1zM411 340h1v1h-1zM411 341h1v1h-1zM411 342h1v1h-1zM411 343h1v1h-1zM411 344h1v1h-1zM411 345h1v1h-1zM411 346h1v1h-1zM411 347h1v1h-1zM411 348h1v1h-1zM411 349h1v1h-1zM411 350h1v1h-1zM411 351h1v1h-1zM411 358h1v1h-1zM411 363h1v1h-1zM412 333h1v1h-1zM412 334h1v1h-1zM412 335h1v1h-1zM412 336h1v1h-1zM412 337h1v1h-1zM412 338h1v1h-1zM412 339h1v1h-1zM412 340h1v1h-1zM412 341h1v1h-1zM412 342h1v1h-1zM412 343h1v1h-1zM412 344h1v1h-1zM412 345h1v1h-1zM412 346h1v1h-1zM412 347h1v1h-1zM412 348h1v1h-1zM412 349h1v1h-1zM412 350h1v1h-1zM412 351h1v1h-1zM412 354h1v1h-1zM413 332h1v1h-1zM413 333h1v1h-1zM413 334h1v1h-1zM413 335h1v1h-1zM413 336h1v1h-1zM413 337h1v1h-1zM413 338h1v1h-1zM413 339h1v1h-1zM413 340h1v1h-1zM413 341h1v1h-1zM413 342h1v1h-1zM413 343h1v1h-1zM413 344h1v1h-1zM413 345h1v1h-1zM413 346h1v1h-1zM413 347h1v1h-1zM413 348h1v1h-1zM413 349h1v1h-1zM413 350h1v1h-1zM413 353h1v1h-1zM413 383h1v1h-1zM414 333h1v1h-1zM414 334h1v1h-1zM414 335h1v1h-1zM414 336h1v1h-1zM414 337h1v1h-1zM414 338h1v1h-1zM414 339h1v1h-1zM414 340h1v1h-1zM414 341h1v1h-1zM414 342h1v1h-1zM414 343h1v1h-1zM414 344h1v1h-1zM414 345h1v1h-1zM414 346h1v1h-1zM414 347h1v1h-1zM414 348h1v1h-1zM414 349h1v1h-1zM414 350h1v1h-1zM414 351h1v1h-1zM415 330h1v1h-1zM415 332h1v1h-1zM415 334h1v1h-1zM415 335h1v1h-1zM415 336h1v1h-1zM415 337h1v1h-1zM415 338h1v1h-1zM415 339h1v1h-1zM415 340h1v1h-1zM415 341h1v1h-1zM415 342h1v1h-1zM415 343h1v1h-1zM415 344h1v1h-1zM415 345h1v1h-1zM415 346h1v1h-1zM415 347h1v1h-1zM415 348h1v1h-1zM415 349h1v1h-1zM415 350h1v1h-1zM415 351h1v1h-1zM416 322h1v1h-1zM416 327h1v1h-1zM416 332h1v1h-1zM416 333h1v1h-1zM416 334h1v1h-1zM416 335h1v1h-1zM416 336h1v1h-1zM416 337h1v1h-1zM416 338h1v1h-1zM416 339h1v1h-1zM416 340h1v1h-1zM416 341h1v1h-1zM416 342h1v1h-1zM416 343h1v1h-1zM416 344h1v1h-1zM416 345h1v1h-1zM416 346h1v1h-1zM416 347h1v1h-1zM416 348h1v1h-1zM416 349h1v1h-1zM416 350h1v1h-1zM416 375h1v1h-1zM417 332h1v1h-1zM417 333h1v1h-1zM417 334h1v1h-1zM417 335h1v1h-1zM417 336h1v1h-1zM417 337h1v1h-1zM417 338h1v1h-1zM417 339h1v1h-1zM417 340h1v1h-1zM417 341h1v1h-1zM417 342h1v1h-1zM417 343h1v1h-1zM417 344h1v1h-1zM417 345h1v1h-1zM417 346h1v1h-1zM417 347h1v1h-1zM417 348h1v1h-1zM417 349h1v1h-1zM417 350h1v1h-1zM417 351h1v1h-1zM417 385h1v1h-1zM417 391h1v1h-1zM418 326h1v1h-1zM418 331h1v1h-1zM418 332h1v1h-1zM418 333h1v1h-1zM418 334h1v1h-1zM418 335h1v1h-1zM418 336h1v1h-1zM418 337h1v1h-1zM418 338h1v1h-1zM418 339h1v1h-1zM418 340h1v1h-1zM418 341h1v1h-1zM418 342h1v1h-1zM418 343h1v1h-1zM418 344h1v1h-1zM418 345h1v1h-1zM418 346h1v1h-1zM418 347h1v1h-1zM418 348h1v1h-1zM418 349h1v1h-1zM418 351h1v1h-1zM418 368h1v1h-1zM418 373h1v1h-1zM418 385h1v1h-1zM418 390h1v1h-1zM419 331h1v1h-1zM419 332h1v1h-1zM419 333h1v1h-1zM419 334h1v1h-1zM419 335h1v1h-1zM419 336h1v1h-1zM419 337h1v1h-1zM419 338h1v1h-1zM419 339h1v1h-1zM419 340h1v1h-1zM419 341h1v1h-1zM419 342h1v1h-1zM419 343h1v1h-1zM419 344h1v1h-1zM419 345h1v1h-1zM419 346h1v1h-1zM419 347h1v1h-1zM419 348h1v1h-1zM419 349h1v1h-1zM419 350h1v1h-1zM419 351h1v1h-1zM419 358h1v1h-1zM419 370h1v1h-1zM419 375h1v1h-1zM419 377h1v1h-1zM419 382h1v1h-1zM420 332h1v1h-1zM420 334h1v1h-1zM420 335h1v1h-1zM420 336h1v1h-1zM420 337h1v1h-1zM420 338h1v1h-1zM420 339h1v1h-1zM420 340h1v1h-1zM420 341h1v1h-1zM420 342h1v1h-1zM420 343h1v1h-1zM420 344h1v1h-1zM420 345h1v1h-1zM420 346h1v1h-1zM420 347h1v1h-1zM420 348h1v1h-1zM420 349h1v1h-1zM420 350h1v1h-1zM420 365h1v1h-1zM420 373h1v1h-1zM420 380h1v1h-1zM420 387h1v1h-1zM421 330h1v1h-1zM421 332h1v1h-1zM421 333h1v1h-1zM421 334h1v1h-1zM421 335h1v1h-1zM421 336h1v1h-1zM421 337h1v1h-1zM421 338h1v1h-1zM421 339h1v1h-1zM421 340h1v1h-1zM421 341h1v1h-1zM421 342h1v1h-1zM421 343h1v1h-1zM421 344h1v1h-1zM421 345h1v1h-1zM421 346h1v1h-1zM421 347h1v1h-1zM421 348h1v1h-1zM421 349h1v1h-1zM421 371h1v1h-1zM421 379h1v1h-1zM421 382h1v1h-1zM421 384h1v1h-1zM421 385h1v1h-1zM421 390h1v1h-1zM422 332h1v1h-1zM422 333h1v1h-1zM422 334h1v1h-1zM422 335h1v1h-1zM422 336h1v1h-1zM422 337h1v1h-1zM422 338h1v1h-1zM422 339h1v1h-1zM422 340h1v1h-1zM422 341h1v1h-1zM422 342h1v1h-1zM422 343h1v1h-1zM422 344h1v1h-1zM422 345h1v1h-1zM422 346h1v1h-1zM422 348h1v1h-1zM422 349h1v1h-1zM422 350h1v1h-1zM422 351h1v1h-1zM422 363h1v1h-1zM422 366h1v1h-1zM422 369h1v1h-1zM422 376h1v1h-1zM422 378h1v1h-1zM422 379h1v1h-1zM422 382h1v1h-1zM422 385h1v1h-1zM422 386h1v1h-1zM422 387h1v1h-1zM422 388h1v1h-1zM422 391h1v1h-1zM423 323h1v1h-1zM423 328h1v1h-1zM423 332h1v1h-1zM423 333h1v1h-1zM423 334h1v1h-1zM423 335h1v1h-1zM423 336h1v1h-1zM423 337h1v1h-1zM423 338h1v1h-1zM423 339h1v1h-1zM423 340h1v1h-1zM423 341h1v1h-1zM423 342h1v1h-1zM423 343h1v1h-1zM423 344h1v1h-1zM423 345h1v1h-1zM423 346h1v1h-1zM423 347h1v1h-1zM423 348h1v1h-1zM423 349h1v1h-1zM423 360h1v1h-1zM423 365h1v1h-1zM423 370h1v1h-1zM423 376h1v1h-1zM423 378h1v1h-1zM423 379h1v1h-1zM423 380h1v1h-1zM423 381h1v1h-1zM423 382h1v1h-1zM423 384h1v1h-1zM423 386h1v1h-1zM423 387h1v1h-1zM423 388h1v1h-1zM424 330h1v1h-1zM424 332h1v1h-1zM424 333h1v1h-1zM424 334h1v1h-1zM424 335h1v1h-1zM424 336h1v1h-1zM424 337h1v1h-1zM424 338h1v1h-1zM424 339h1v1h-1zM424 340h1v1h-1zM424 341h1v1h-1zM424 342h1v1h-1zM424 343h1v1h-1zM424 344h1v1h-1zM424 345h1v1h-1zM424 346h1v1h-1zM424 347h1v1h-1zM424 348h1v1h-1zM424 357h1v1h-1zM424 364h1v1h-1zM424 367h1v1h-1zM424 369h1v1h-1zM424 371h1v1h-1zM424 372h1v1h-1zM424 374h1v1h-1zM424 377h1v1h-1zM424 378h1v1h-1zM424 379h1v1h-1zM424 381h1v1h-1zM424 384h1v1h-1zM424 386h1v1h-1zM424 388h1v1h-1zM424 389h1v1h-1zM424 390h1v1h-1zM424 392h1v1h-1zM425 331h1v1h-1zM425 332h1v1h-1zM425 333h1v1h-1zM425 334h1v1h-1zM425 335h1v1h-1zM425 336h1v1h-1zM425 337h1v1h-1zM425 338h1v1h-1zM425 339h1v1h-1zM425 340h1v1h-1zM425 341h1v1h-1zM425 342h1v1h-1zM425 343h1v1h-1zM425 344h1v1h-1zM425 345h1v1h-1zM425 346h1v1h-1zM425 350h1v1h-1zM425 368h1v1h-1zM425 371h1v1h-1zM425 373h1v1h-1zM425 374h1v1h-1zM425 375h1v1h-1zM425 376h1v1h-1zM425 378h1v1h-1zM425 380h1v1h-1zM425 381h1v1h-1zM425 382h1v1h-1zM425 383h1v1h-1zM425 384h1v1h-1zM425 385h1v1h-1zM425 394h1v1h-1zM426 331h1v1h-1zM426 332h1v1h-1zM426 333h1v1h-1zM426 334h1v1h-1zM426 335h1v1h-1zM426 336h1v1h-1zM426 337h1v1h-1zM426 338h1v1h-1zM426 339h1v1h-1zM426 340h1v1h-1zM426 341h1v1h-1zM426 342h1v1h-1zM426 343h1v1h-1zM426 344h1v1h-1zM426 345h1v1h-1zM426 346h1v1h-1zM426 363h1v1h-1zM426 367h1v1h-1zM426 372h1v1h-1zM426 374h1v1h-1zM426 376h1v1h-1zM426 381h1v1h-1zM426 383h1v1h-1zM426 387h1v1h-1zM426 388h1v1h-1zM426 392h1v1h-1zM427 327h1v1h-1zM427 333h1v1h-1zM427 334h1v1h-1zM427 335h1v1h-1zM427 336h1v1h-1zM427 337h1v1h-1zM427 338h1v1h-1zM427 339h1v1h-1zM427 340h1v1h-1zM427 341h1v1h-1zM427 342h1v1h-1zM427 343h1v1h-1zM427 346h1v1h-1zM427 361h1v1h-1zM427 364h1v1h-1zM427 366h1v1h-1zM427 367h1v1h-1zM427 368h1v1h-1zM427 369h1v1h-1zM427 374h1v1h-1zM427 376h1v1h-1zM427 377h1v1h-1zM427 379h1v1h-1zM427 380h1v1h-1zM427 382h1v1h-1zM427 384h1v1h-1zM427 388h1v1h-1zM428 332h1v1h-1zM428 333h1v1h-1zM428 334h1v1h-1zM428 335h1v1h-1zM428 336h1v1h-1zM428 337h1v1h-1zM428 338h1v1h-1zM428 339h1v1h-1zM428 340h1v1h-1zM428 341h1v1h-1zM428 343h1v1h-1zM428 345h1v1h-1zM428 356h1v1h-1zM428 359h1v1h-1zM428 363h1v1h-1zM428 373h1v1h-1zM428 374h1v1h-1zM428 379h1v1h-1zM428 380h1v1h-1zM428 381h1v1h-1zM428 388h1v1h-1zM428 392h1v1h-1zM429 333h1v1h-1zM429 336h1v1h-1zM429 337h1v1h-1zM429 338h1v1h-1zM429 340h1v1h-1zM429 368h1v1h-1zM429 373h1v1h-1zM429 375h1v1h-1zM429 376h1v1h-1zM429 377h1v1h-1zM429 378h1v1h-1zM429 379h1v1h-1zM429 381h1v1h-1zM429 382h1v1h-1zM429 390h1v1h-1zM430 336h1v1h-1zM430 337h1v1h-1zM430 343h1v1h-1zM430 369h1v1h-1zM430 373h1v1h-1zM430 374h1v1h-1zM430 376h1v1h-1zM430 377h1v1h-1zM430 378h1v1h-1zM430 379h1v1h-1zM430 384h1v1h-1zM431 358h1v1h-1zM431 366h1v1h-1zM431 369h1v1h-1zM431 372h1v1h-1zM431 373h1v1h-1zM431 375h1v1h-1zM431 378h1v1h-1zM431 379h1v1h-1zM431 384h1v1h-1zM431 385h1v1h-1zM431 386h1v1h-1zM431 394h1v1h-1zM432 360h1v1h-1zM432 366h1v1h-1zM432 371h1v1h-1zM432 374h1v1h-1zM432 376h1v1h-1zM432 383h1v1h-1zM432 385h1v1h-1zM432 395h1v1h-1zM433 332h1v1h-1zM433 334h1v1h-1zM433 364h1v1h-1zM433 366h1v1h-1zM433 370h1v1h-1zM433 371h1v1h-1zM433 373h1v1h-1zM433 374h1v1h-1zM433 377h1v1h-1zM433 379h1v1h-1zM433 382h1v1h-1zM433 387h1v1h-1zM434 340h1v1h-1zM434 359h1v1h-1zM434 367h1v1h-1zM434 373h1v1h-1zM434 375h1v1h-1zM434 378h1v1h-1zM435 381h1v1h-1zM437 379h1v1h-1zM437 381h1v1h-1zM438 332h1v1h-1zM438 361h1v1h-1zM438 364h1v1h-1zM438 368h1v1h-1zM438 370h1v1h-1zM438 392h1v1h-1zM439 347h1v1h-1zM441 335h1v1h-1zM441 393h1v1h-1zM444 376h1v1h-1zM446 325h1v1h-1zM446 335h1v1h-1zM450 375h1v1h-1zM451 391h1v1h-1zM453 352h1v1h-1zM455 333h1v1h-1zM459 373h1v1h-1zM461 364h1v1h-1zM468 377h1v1h-1zM470 355h1v1h-1zM470 372h1v1h-1zM470 389h1v1h-1zM473 357h1v1h-1zM473 364h1v1h-1zM475 370h1v1h-1zM476 346h1v1h-1zM476 383h1v1h-1zM477 341h1v1h-1zM477 356h1v1h-1zM478 355h1v1h-1z" fill="#909090"/>
<line x1="383.80" y1="290.40" x2="383.80" y2="397.30" stroke="#111" stroke-width="1.5"/>
<line x1="335.40" y1="360.80" x2="485.20" y2="360.80" stroke="#111" stroke-width="1.5"/>
<rect x="335.4" y="290.4" width="149.80" height="106.90" fill="none" stroke="#000" stroke-width="1.8"/>
<line x1="335.40" y1="397.30" x2="335.40" y2="403.80" stroke="#000" stroke-width="1.4"/>
<line x1="328.90" y1="397.30" x2="335.40" y2="397.30" stroke="#000" stroke-width="1.4"/>
<line x1="346.67" y1="397.30" x2="346.67" y2="401.30" stroke="#000" stroke-width="1.4"/>
<line x1="331.40" y1="389.25" x2="335.40" y2="389.25" stroke="#000" stroke-width="1.4"/>
<line x1="353.27" y1="397.30" x2="353.27" y2="401.30" stroke="#000" stroke-width="1.4"/>
<line x1="331.40" y1="384.55" x2="335.40" y2="384.55" stroke="#000" stroke-width="1.4"/>
<line x1="357.95" y1="397.30" x2="357.95" y2="401.30" stroke="#000" stroke-width="1.4"/>
<line x1="331.40" y1="381.21" x2="335.40" y2="381.21" stroke="#000" stroke-width="1.4"/>
<line x1="361.58" y1="397.30" x2="361.58" y2="401.30" stroke="#000" stroke-width="1.4"/>
<line x1="331.40" y1="378.62" x2="335.40" y2="378.62" stroke="#000" stroke-width="1.4"/>
<line x1="364.54" y1="397.30" x2="364.54" y2="401.30" stroke="#000" stroke-width="1.4"/>
<line x1="331.40" y1="376.50" x2="335.40" y2="376.50" stroke="#000" stroke-width="1.4"/>
<line x1="367.05" y1="397.30" x2="367.05" y2="401.30" stroke="#000" stroke-width="1.4"/>
<line x1="331.40" y1="374.71" x2="335.40" y2="374.71" stroke="#000" stroke-width="1.4"/>
<line x1="369.22" y1="397.30" x2="369.22" y2="401.30" stroke="#000" stroke-width="1.4"/>
<line x1="331.40" y1="373.16" x2="335.40" y2="373.16" stroke="#000" stroke-width="1.4"/>
<line x1="371.14" y1="397.30" x2="371.14" y2="401.30" stroke="#000" stroke-width="1.4"/>
<line x1="331.40" y1="371.80" x2="335.40" y2="371.80" stroke="#000" stroke-width="1.4"/>
<line x1="372.85" y1="397.30" x2="372.85" y2="403.80" stroke="#000" stroke-width="1.4"/>
<line x1="328.90" y1="370.57" x2="335.40" y2="370.57" stroke="#000" stroke-width="1.4"/>
<line x1="384.12" y1="397.30" x2="384.12" y2="401.30" stroke="#000" stroke-width="1.4"/>
<line x1="331.40" y1="362.53" x2="335.40" y2="362.53" stroke="#000" stroke-width="1.4"/>
<line x1="390.72" y1="397.30" x2="390.72" y2="401.30" stroke="#000" stroke-width="1.4"/>
<line x1="331.40" y1="357.82" x2="335.40" y2="357.82" stroke="#000" stroke-width="1.4"/>
<line x1="395.40" y1="397.30" x2="395.40" y2="401.30" stroke="#000" stroke-width="1.4"/>
<line x1="331.40" y1="354.48" x2="335.40" y2="354.48" stroke="#000" stroke-width="1.4"/>
<line x1="399.03" y1="397.30" x2="399.03" y2="401.30" stroke="#000" stroke-width="1.4"/>
<line x1="331.40" y1="351.90" x2="335.40" y2="351.90" stroke="#000" stroke-width="1.4"/>
<line x1="401.99" y1="397.30" x2="401.99" y2="401.30" stroke="#000" stroke-width="1.4"/>
<line x1="331.40" y1="349.78" x2="335.40" y2="349.78" stroke="#000" stroke-width="1.4"/>
<line x1="404.50" y1="397.30" x2="404.50" y2="401.30" stroke="#000" stroke-width="1.4"/>
<line x1="331.40" y1="347.99" x2="335.40" y2="347.99" stroke="#000" stroke-width="1.4"/>
<line x1="406.67" y1="397.30" x2="406.67" y2="401.30" stroke="#000" stroke-width="1.4"/>
<line x1="331.40" y1="346.44" x2="335.40" y2="346.44" stroke="#000" stroke-width="1.4"/>
<line x1="408.59" y1="397.30" x2="408.59" y2="401.30" stroke="#000" stroke-width="1.4"/>
<line x1="331.40" y1="345.07" x2="335.40" y2="345.07" stroke="#000" stroke-width="1.4"/>
<line x1="410.30" y1="397.30" x2="410.30" y2="403.80" stroke="#000" stroke-width="1.4"/>
<line x1="328.90" y1="343.85" x2="335.40" y2="343.85" stroke="#000" stroke-width="1.4"/>
<line x1="421.57" y1="397.30" x2="421.57" y2="401.30" stroke="#000" stroke-width="1.4"/>
<line x1="331.40" y1="335.80" x2="335.40" y2="335.80" stroke="#000" stroke-width="1.4"/>
<line x1="428.17" y1="397.30" x2="428.17" y2="401.30" stroke="#000" stroke-width="1.4"/>
<line x1="331.40" y1="331.10" x2="335.40" y2="331.10" stroke="#000" stroke-width="1.4"/>
<line x1="432.85" y1="397.30" x2="432.85" y2="401.30" stroke="#000" stroke-width="1.4"/>
<line x1="331.40" y1="327.76" x2="335.40" y2="327.76" stroke="#000" stroke-width="1.4"/>
<line x1="436.48" y1="397.30" x2="436.48" y2="401.30" stroke="#000" stroke-width="1.4"/>
<line x1="331.40" y1="325.17" x2="335.40" y2="325.17" stroke="#000" stroke-width="1.4"/>
<line x1="439.44" y1="397.30" x2="439.44" y2="401.30" stroke="#000" stroke-width="1.4"/>
<line x1="331.40" y1="323.05" x2="335.40" y2="323.05" stroke="#000" stroke-width="1.4"/>
<line x1="441.95" y1="397.30" x2="441.95" y2="401.30" stroke="#000" stroke-width="1.4"/>
<line x1="331.40" y1="321.26" x2="335.40" y2="321.26" stroke="#000" stroke-width="1.4"/>
<line x1="444.12" y1="397.30" x2="444.12" y2="401.30" stroke="#000" stroke-width="1.4"/>
<line x1="331.40" y1="319.71" x2="335.40" y2="319.71" stroke="#000" stroke-width="1.4"/>
<line x1="446.04" y1="397.30" x2="446.04" y2="401.30" stroke="#000" stroke-width="1.4"/>
<line x1="331.40" y1="318.35" x2="335.40" y2="318.35" stroke="#000" stroke-width="1.4"/>
<line x1="447.75" y1="397.30" x2="447.75" y2="403.80" stroke="#000" stroke-width="1.4"/>
<line x1="328.90" y1="317.12" x2="335.40" y2="317.12" stroke="#000" stroke-width="1.4"/>
<line x1="459.02" y1="397.30" x2="459.02" y2="401.30" stroke="#000" stroke-width="1.4"/>
<line x1="331.40" y1="309.08" x2="335.40" y2="309.08" stroke="#000" stroke-width="1.4"/>
<line x1="465.62" y1="397.30" x2="465.62" y2="401.30" stroke="#000" stroke-width="1.4"/>
<line x1="331.40" y1="304.37" x2="335.40" y2="304.37" stroke="#000" stroke-width="1.4"/>
<line x1="470.30" y1="397.30" x2="470.30" y2="401.30" stroke="#000" stroke-width="1.4"/>
<line x1="331.40" y1="301.03" x2="335.40" y2="301.03" stroke="#000" stroke-width="1.4"/>
<line x1="473.93" y1="397.30" x2="473.93" y2="401.30" stroke="#000" stroke-width="1.4"/>
<line x1="331.40" y1="298.45" x2="335.40" y2="298.45" stroke="#000" stroke-width="1.4"/>
<line x1="476.89" y1="397.30" x2="476.89" y2="401.30" stroke="#000" stroke-width="1.4"/>
<line x1="331.40" y1="296.33" x2="335.40" y2="296.33" stroke="#000" stroke-width="1.4"/>
<line x1="479.40" y1="397.30" x2="479.40" y2="401.30" stroke="#000" stroke-width="1.4"/>
<line x1="331.40" y1="294.54" x2="335.40" y2="294.54" stroke="#000" stroke-width="1.4"/>
<line x1="481.57" y1="397.30" x2="481.57" y2="401.30" stroke="#000" stroke-width="1.4"/>
<line x1="331.40" y1="292.99" x2="335.40" y2="292.99" stroke="#000" stroke-width="1.4"/>
<line x1="483.49" y1="397.30" x2="483.49" y2="401.30" stroke="#000" stroke-width="1.4"/>
<line x1="331.40" y1="291.62" x2="335.40" y2="291.62" stroke="#000" stroke-width="1.4"/>
<line x1="485.20" y1="397.30" x2="485.20" y2="403.80" stroke="#000" stroke-width="1.4"/>
<line x1="328.90" y1="290.40" x2="335.40" y2="290.40" stroke="#000" stroke-width="1.4"/>
<text transform="translate(336.40,419.10) scale(0.86,1)" font-size="13" text-anchor="middle" stroke="#000" stroke-width="0.3">10<tspan dy="-7">0</tspan></text>
<text transform="translate(324.10,397.60) rotate(-90) scale(0.86,1)" font-size="13" text-anchor="middle" stroke="#000" stroke-width="0.3">10<tspan dy="-6">0</tspan></text>
<text transform="translate(373.85,419.10) scale(0.86,1)" font-size="13" text-anchor="middle" stroke="#000" stroke-width="0.3">10<tspan dy="-7">1</tspan></text>
<text transform="translate(324.10,370.88) rotate(-90) scale(0.86,1)" font-size="13" text-anchor="middle" stroke="#000" stroke-width="0.3">10<tspan dy="-6">1</tspan></text>
<text transform="translate(411.30,419.10) scale(0.86,1)" font-size="13" text-anchor="middle" stroke="#000" stroke-width="0.3">10<tspan dy="-7">2</tspan></text>
<text transform="translate(324.10,344.15) rotate(-90) scale(0.86,1)" font-size="13" text-anchor="middle" stroke="#000" stroke-width="0.3">10<tspan dy="-6">2</tspan></text>
<text transform="translate(448.75,419.10) scale(0.86,1)" font-size="13" text-anchor="middle" stroke="#000" stroke-width="0.3">10<tspan dy="-7">3</tspan></text>
<text transform="translate(324.10,317.43) rotate(-90) scale(0.86,1)" font-size="13" text-anchor="middle" stroke="#000" stroke-width="0.3">10<tspan dy="-6">3</tspan></text>
<text transform="translate(486.20,419.10) scale(0.86,1)" font-size="13" text-anchor="middle" stroke="#000" stroke-width="0.3">10<tspan dy="-7">4</tspan></text>
<text transform="translate(324.10,290.70) rotate(-90) scale(0.86,1)" font-size="13" text-anchor="middle" stroke="#000" stroke-width="0.3">10<tspan dy="-6">4</tspan></text>
<text transform="translate(426.80,431.80)" font-size="12.5" text-anchor="middle" font-weight="normal">FITC</text>
<text transform="translate(307.10,328.30) rotate(-90) scale(0.97,1)" font-size="13.5" text-anchor="middle" font-weight="normal">PE</text>
<text transform="translate(341.00,309.60) scale(1.08,1)" font-size="16.6" text-anchor="start" font-weight="bold">3.2</text>
<text transform="translate(480.50,309.60) scale(1.08,1)" font-size="16.6" text-anchor="end" font-weight="bold">49.3</text>
<text transform="translate(340.00,393.00) scale(1.08,1)" font-size="16.6" text-anchor="start" font-weight="bold">37.8</text>
<text transform="translate(480.50,394.00) scale(1.08,1)" font-size="16.6" text-anchor="end" font-weight="bold">9.6</text>
<text x="0.50" y="497.50" font-size="24" text-anchor="start" font-weight="bold" >C</text>
<line x1="109.50" y1="535.80" x2="109.50" y2="733.90" stroke="#808080" stroke-width="1"/>
<line x1="109.50" y1="729.40" x2="239.80" y2="729.40" stroke="#808080" stroke-width="1"/>
<line x1="239.80" y1="729.40" x2="239.80" y2="733.90" stroke="#808080" stroke-width="1"/>
<line x1="104.50" y1="729.40" x2="109.50" y2="729.40" stroke="#808080" stroke-width="1"/>
<text x="97.20" y="734.60" font-size="14.4" text-anchor="end" font-weight="normal" >0</text>
<line x1="105.50" y1="725.10" x2="109.50" y2="725.10" stroke="#808080" stroke-width="1"/>
<line x1="105.50" y1="720.80" x2="109.50" y2="720.80" stroke="#808080" stroke-width="1"/>
<line x1="105.50" y1="716.49" x2="109.50" y2="716.49" stroke="#808080" stroke-width="1"/>
<line x1="105.50" y1="712.19" x2="109.50" y2="712.19" stroke="#808080" stroke-width="1"/>
<line x1="104.50" y1="707.89" x2="109.50" y2="707.89" stroke="#808080" stroke-width="1"/>
<text x="97.20" y="713.09" font-size="14.4" text-anchor="end" font-weight="normal" >2</text>
<line x1="105.50" y1="703.59" x2="109.50" y2="703.59" stroke="#808080" stroke-width="1"/>
<line x1="105.50" y1="699.28" x2="109.50" y2="699.28" stroke="#808080" stroke-width="1"/>
<line x1="105.50" y1="694.98" x2="109.50" y2="694.98" stroke="#808080" stroke-width="1"/>
<line x1="105.50" y1="690.68" x2="109.50" y2="690.68" stroke="#808080" stroke-width="1"/>
<line x1="104.50" y1="686.38" x2="109.50" y2="686.38" stroke="#808080" stroke-width="1"/>
<text x="97.20" y="691.58" font-size="14.4" text-anchor="end" font-weight="normal" >4</text>
<line x1="105.50" y1="682.08" x2="109.50" y2="682.08" stroke="#808080" stroke-width="1"/>
<line x1="105.50" y1="677.77" x2="109.50" y2="677.77" stroke="#808080" stroke-width="1"/>
<line x1="105.50" y1="673.47" x2="109.50" y2="673.47" stroke="#808080" stroke-width="1"/>
<line x1="105.50" y1="669.17" x2="109.50" y2="669.17" stroke="#808080" stroke-width="1"/>
<line x1="104.50" y1="664.87" x2="109.50" y2="664.87" stroke="#808080" stroke-width="1"/>
<text x="97.20" y="670.07" font-size="14.4" text-anchor="end" font-weight="normal" >6</text>
<line x1="105.50" y1="660.56" x2="109.50" y2="660.56" stroke="#808080" stroke-width="1"/>
<line x1="105.50" y1="656.26" x2="109.50" y2="656.26" stroke="#808080" stroke-width="1"/>
<line x1="105.50" y1="651.96" x2="109.50" y2="651.96" stroke="#808080" stroke-width="1"/>
<line x1="105.50" y1="647.66" x2="109.50" y2="647.66" stroke="#808080" stroke-width="1"/>
<line x1="104.50" y1="643.36" x2="109.50" y2="643.36" stroke="#808080" stroke-width="1"/>
<text x="97.20" y="648.56" font-size="14.4" text-anchor="end" font-weight="normal" >8</text>
<line x1="105.50" y1="639.05" x2="109.50" y2="639.05" stroke="#808080" stroke-width="1"/>
<line x1="105.50" y1="634.75" x2="109.50" y2="634.75" stroke="#808080" stroke-width="1"/>
<line x1="105.50" y1="630.45" x2="109.50" y2="630.45" stroke="#808080" stroke-width="1"/>
<line x1="105.50" y1="626.15" x2="109.50" y2="626.15" stroke="#808080" stroke-width="1"/>
<line x1="104.50" y1="621.84" x2="109.50" y2="621.84" stroke="#808080" stroke-width="1"/>
<text x="97.20" y="627.04" font-size="14.4" text-anchor="end" font-weight="normal" >10</text>
<line x1="105.50" y1="617.54" x2="109.50" y2="617.54" stroke="#808080" stroke-width="1"/>
<line x1="105.50" y1="613.24" x2="109.50" y2="613.24" stroke="#808080" stroke-width="1"/>
<line x1="105.50" y1="608.94" x2="109.50" y2="608.94" stroke="#808080" stroke-width="1"/>
<line x1="105.50" y1="604.64" x2="109.50" y2="604.64" stroke="#808080" stroke-width="1"/>
<line x1="104.50" y1="600.33" x2="109.50" y2="600.33" stroke="#808080" stroke-width="1"/>
<text x="97.20" y="605.53" font-size="14.4" text-anchor="end" font-weight="normal" >12</text>
<line x1="105.50" y1="596.03" x2="109.50" y2="596.03" stroke="#808080" stroke-width="1"/>
<line x1="105.50" y1="591.73" x2="109.50" y2="591.73" stroke="#808080" stroke-width="1"/>
<line x1="105.50" y1="587.43" x2="109.50" y2="587.43" stroke="#808080" stroke-width="1"/>
<line x1="105.50" y1="583.12" x2="109.50" y2="583.12" stroke="#808080" stroke-width="1"/>
<line x1="104.50" y1="578.82" x2="109.50" y2="578.82" stroke="#808080" stroke-width="1"/>
<text x="97.20" y="584.02" font-size="14.4" text-anchor="end" font-weight="normal" >14</text>
<line x1="105.50" y1="574.52" x2="109.50" y2="574.52" stroke="#808080" stroke-width="1"/>
<line x1="105.50" y1="570.22" x2="109.50" y2="570.22" stroke="#808080" stroke-width="1"/>
<line x1="105.50" y1="565.92" x2="109.50" y2="565.92" stroke="#808080" stroke-width="1"/>
<line x1="105.50" y1="561.61" x2="109.50" y2="561.61" stroke="#808080" stroke-width="1"/>
<line x1="104.50" y1="557.31" x2="109.50" y2="557.31" stroke="#808080" stroke-width="1"/>
<text x="97.20" y="562.51" font-size="14.4" text-anchor="end" font-weight="normal" >16</text>
<line x1="105.50" y1="553.01" x2="109.50" y2="553.01" stroke="#808080" stroke-width="1"/>
<line x1="105.50" y1="548.71" x2="109.50" y2="548.71" stroke="#808080" stroke-width="1"/>
<line x1="105.50" y1="544.40" x2="109.50" y2="544.40" stroke="#808080" stroke-width="1"/>
<line x1="105.50" y1="540.10" x2="109.50" y2="540.10" stroke="#808080" stroke-width="1"/>
<line x1="104.50" y1="535.80" x2="109.50" y2="535.80" stroke="#808080" stroke-width="1"/>
<text x="97.20" y="541.00" font-size="14.4" text-anchor="end" font-weight="normal" >18</text>
<line x1="193.40" y1="638.40" x2="193.40" y2="684.40" stroke="#808080" stroke-width="1"/>
<line x1="191.90" y1="638.40" x2="194.90" y2="638.40" stroke="#808080" stroke-width="1"/>
<rect x="174.10" y="684.90" width="37.10" height="44.50" fill="#fff" stroke="#666" stroke-width="1"/>
<line x1="156.10" y1="562.30" x2="156.10" y2="617.20" stroke="#808080" stroke-width="1"/>
<line x1="154.60" y1="562.30" x2="157.60" y2="562.30" stroke="#808080" stroke-width="1"/>
<rect x="137.00" y="617.20" width="37.60" height="112.20" fill="#000" stroke="none" stroke-width="1"/>
<text transform="translate(71.90,633.00) rotate(-90)" font-size="15.2" text-anchor="middle" font-weight="bold"><tspan stroke="#fff" stroke-width="0.2">DN thymocytes</tspan> <tspan font-weight="normal" stroke="#000" stroke-width="0.12">(x10<tspan font-size="8.5" dy="-7.5" dx="-1">6</tspan><tspan dy="7.5" dx="-1.4">)</tspan></tspan></text>
<text x="175.00" y="756.20" font-size="14.3" text-anchor="middle" font-weight="normal" >DN CD4-CD8-</text>
<text x="193.00" y="631.27" font-size="27" text-anchor="middle" font-weight="bold" >*</text>
<text x="53.50" y="516.00" font-size="20.5" text-anchor="start" font-weight="bold" >i</text>
<line x1="310.20" y1="533.40" x2="310.20" y2="737.80" stroke="#808080" stroke-width="1"/>
<line x1="310.20" y1="733.30" x2="426.20" y2="733.30" stroke="#808080" stroke-width="1"/>
<line x1="426.20" y1="733.30" x2="426.20" y2="737.80" stroke="#808080" stroke-width="1"/>
<line x1="305.20" y1="733.30" x2="310.20" y2="733.30" stroke="#808080" stroke-width="1"/>
<text x="298.50" y="738.50" font-size="14.4" text-anchor="end" font-weight="normal" >0</text>
<line x1="306.20" y1="725.30" x2="310.20" y2="725.30" stroke="#808080" stroke-width="1"/>
<line x1="306.20" y1="717.31" x2="310.20" y2="717.31" stroke="#808080" stroke-width="1"/>
<line x1="306.20" y1="709.31" x2="310.20" y2="709.31" stroke="#808080" stroke-width="1"/>
<line x1="306.20" y1="701.32" x2="310.20" y2="701.32" stroke="#808080" stroke-width="1"/>
<line x1="305.20" y1="693.32" x2="310.20" y2="693.32" stroke="#808080" stroke-width="1"/>
<text x="298.50" y="698.52" font-size="14.4" text-anchor="end" font-weight="normal" >50</text>
<line x1="306.20" y1="685.32" x2="310.20" y2="685.32" stroke="#808080" stroke-width="1"/>
<line x1="306.20" y1="677.33" x2="310.20" y2="677.33" stroke="#808080" stroke-width="1"/>
<line x1="306.20" y1="669.33" x2="310.20" y2="669.33" stroke="#808080" stroke-width="1"/>
<line x1="306.20" y1="661.34" x2="310.20" y2="661.34" stroke="#808080" stroke-width="1"/>
<line x1="305.20" y1="653.34" x2="310.20" y2="653.34" stroke="#808080" stroke-width="1"/>
<text x="298.50" y="658.54" font-size="14.4" text-anchor="end" font-weight="normal" >100</text>
<line x1="306.20" y1="645.34" x2="310.20" y2="645.34" stroke="#808080" stroke-width="1"/>
<line x1="306.20" y1="637.35" x2="310.20" y2="637.35" stroke="#808080" stroke-width="1"/>
<line x1="306.20" y1="629.35" x2="310.20" y2="629.35" stroke="#808080" stroke-width="1"/>
<line x1="306.20" y1="621.36" x2="310.20" y2="621.36" stroke="#808080" stroke-width="1"/>
<line x1="305.20" y1="613.36" x2="310.20" y2="613.36" stroke="#808080" stroke-width="1"/>
<text x="298.50" y="618.56" font-size="14.4" text-anchor="end" font-weight="normal" >150</text>
<line x1="306.20" y1="605.36" x2="310.20" y2="605.36" stroke="#808080" stroke-width="1"/>
<line x1="306.20" y1="597.37" x2="310.20" y2="597.37" stroke="#808080" stroke-width="1"/>
<line x1="306.20" y1="589.37" x2="310.20" y2="589.37" stroke="#808080" stroke-width="1"/>
<line x1="306.20" y1="581.38" x2="310.20" y2="581.38" stroke="#808080" stroke-width="1"/>
<line x1="305.20" y1="573.38" x2="310.20" y2="573.38" stroke="#808080" stroke-width="1"/>
<text x="298.50" y="578.58" font-size="14.4" text-anchor="end" font-weight="normal" >200</text>
<line x1="306.20" y1="565.38" x2="310.20" y2="565.38" stroke="#808080" stroke-width="1"/>
<line x1="306.20" y1="557.39" x2="310.20" y2="557.39" stroke="#808080" stroke-width="1"/>
<line x1="306.20" y1="549.39" x2="310.20" y2="549.39" stroke="#808080" stroke-width="1"/>
<line x1="306.20" y1="541.40" x2="310.20" y2="541.40" stroke="#808080" stroke-width="1"/>
<line x1="305.20" y1="533.40" x2="310.20" y2="533.40" stroke="#808080" stroke-width="1"/>
<text x="298.50" y="538.60" font-size="14.4" text-anchor="end" font-weight="normal" >250</text>
<line x1="385.10" y1="715.50" x2="385.10" y2="724.40" stroke="#808080" stroke-width="1"/>
<line x1="383.60" y1="715.50" x2="386.60" y2="715.50" stroke="#808080" stroke-width="1"/>
<rect x="367.80" y="724.90" width="33.20" height="8.40" fill="#fff" stroke="#666" stroke-width="1"/>
<line x1="351.30" y1="559.80" x2="351.30" y2="630.70" stroke="#808080" stroke-width="1"/>
<line x1="349.80" y1="559.80" x2="352.80" y2="559.80" stroke="#808080" stroke-width="1"/>
<rect x="334.50" y="630.70" width="33.80" height="102.60" fill="#000" stroke="none" stroke-width="1"/>
<text transform="translate(268.20,632.30) rotate(-90)" font-size="14" text-anchor="middle" font-weight="bold"><tspan stroke="#fff" stroke-width="0.2">DP thymocytes</tspan> <tspan font-weight="normal" stroke="#000" stroke-width="0.12">(x10<tspan font-size="8.5" dy="-7.5" dx="-1">6</tspan><tspan dy="7.5" dx="-1.4">)</tspan></tspan></text>
<text x="369.00" y="759.20" font-size="14" text-anchor="middle" font-weight="normal" >DP CD4+CD8+</text>
<text x="385.00" y="707.77" font-size="27" text-anchor="middle" font-weight="bold" >*</text>
<text x="248.00" y="515.00" font-size="20.5" text-anchor="start" font-weight="bold" >ii</text>
<line x1="107.20" y1="804.50" x2="107.20" y2="1014.10" stroke="#808080" stroke-width="1"/>
<line x1="107.20" y1="1009.60" x2="236.50" y2="1009.60" stroke="#808080" stroke-width="1"/>
<line x1="236.50" y1="1009.60" x2="236.50" y2="1014.10" stroke="#808080" stroke-width="1"/>
<line x1="102.20" y1="1009.60" x2="107.20" y2="1009.60" stroke="#808080" stroke-width="1"/>
<text x="96.00" y="1014.80" font-size="14.4" text-anchor="end" font-weight="normal" >0</text>
<line x1="103.20" y1="1003.74" x2="107.20" y2="1003.74" stroke="#808080" stroke-width="1"/>
<line x1="103.20" y1="997.88" x2="107.20" y2="997.88" stroke="#808080" stroke-width="1"/>
<line x1="103.20" y1="992.02" x2="107.20" y2="992.02" stroke="#808080" stroke-width="1"/>
<line x1="103.20" y1="986.16" x2="107.20" y2="986.16" stroke="#808080" stroke-width="1"/>
<line x1="102.20" y1="980.30" x2="107.20" y2="980.30" stroke="#808080" stroke-width="1"/>
<text x="96.00" y="985.50" font-size="14.4" text-anchor="end" font-weight="normal" >5</text>
<line x1="103.20" y1="974.44" x2="107.20" y2="974.44" stroke="#808080" stroke-width="1"/>
<line x1="103.20" y1="968.58" x2="107.20" y2="968.58" stroke="#808080" stroke-width="1"/>
<line x1="103.20" y1="962.72" x2="107.20" y2="962.72" stroke="#808080" stroke-width="1"/>
<line x1="103.20" y1="956.86" x2="107.20" y2="956.86" stroke="#808080" stroke-width="1"/>
<line x1="102.20" y1="951.00" x2="107.20" y2="951.00" stroke="#808080" stroke-width="1"/>
<text x="96.00" y="956.20" font-size="14.4" text-anchor="end" font-weight="normal" >10</text>
<line x1="103.20" y1="945.14" x2="107.20" y2="945.14" stroke="#808080" stroke-width="1"/>
<line x1="103.20" y1="939.28" x2="107.20" y2="939.28" stroke="#808080" stroke-width="1"/>
<line x1="103.20" y1="933.42" x2="107.20" y2="933.42" stroke="#808080" stroke-width="1"/>
<line x1="103.20" y1="927.56" x2="107.20" y2="927.56" stroke="#808080" stroke-width="1"/>
<line x1="102.20" y1="921.70" x2="107.20" y2="921.70" stroke="#808080" stroke-width="1"/>
<text x="96.00" y="926.90" font-size="14.4" text-anchor="end" font-weight="normal" >15</text>
<line x1="103.20" y1="915.84" x2="107.20" y2="915.84" stroke="#808080" stroke-width="1"/>
<line x1="103.20" y1="909.98" x2="107.20" y2="909.98" stroke="#808080" stroke-width="1"/>
<line x1="103.20" y1="904.12" x2="107.20" y2="904.12" stroke="#808080" stroke-width="1"/>
<line x1="103.20" y1="898.26" x2="107.20" y2="898.26" stroke="#808080" stroke-width="1"/>
<line x1="102.20" y1="892.40" x2="107.20" y2="892.40" stroke="#808080" stroke-width="1"/>
<text x="96.00" y="897.60" font-size="14.4" text-anchor="end" font-weight="normal" >20</text>
<line x1="103.20" y1="886.54" x2="107.20" y2="886.54" stroke="#808080" stroke-width="1"/>
<line x1="103.20" y1="880.68" x2="107.20" y2="880.68" stroke="#808080" stroke-width="1"/>
<line x1="103.20" y1="874.82" x2="107.20" y2="874.82" stroke="#808080" stroke-width="1"/>
<line x1="103.20" y1="868.96" x2="107.20" y2="868.96" stroke="#808080" stroke-width="1"/>
<line x1="102.20" y1="863.10" x2="107.20" y2="863.10" stroke="#808080" stroke-width="1"/>
<text x="96.00" y="868.30" font-size="14.4" text-anchor="end" font-weight="normal" >25</text>
<line x1="103.20" y1="857.24" x2="107.20" y2="857.24" stroke="#808080" stroke-width="1"/>
<line x1="103.20" y1="851.38" x2="107.20" y2="851.38" stroke="#808080" stroke-width="1"/>
<line x1="103.20" y1="845.52" x2="107.20" y2="845.52" stroke="#808080" stroke-width="1"/>
<line x1="103.20" y1="839.66" x2="107.20" y2="839.66" stroke="#808080" stroke-width="1"/>
<line x1="102.20" y1="833.80" x2="107.20" y2="833.80" stroke="#808080" stroke-width="1"/>
<text x="96.00" y="839.00" font-size="14.4" text-anchor="end" font-weight="normal" >30</text>
<line x1="103.20" y1="827.94" x2="107.20" y2="827.94" stroke="#808080" stroke-width="1"/>
<line x1="103.20" y1="822.08" x2="107.20" y2="822.08" stroke="#808080" stroke-width="1"/>
<line x1="103.20" y1="816.22" x2="107.20" y2="816.22" stroke="#808080" stroke-width="1"/>
<line x1="103.20" y1="810.36" x2="107.20" y2="810.36" stroke="#808080" stroke-width="1"/>
<line x1="102.20" y1="804.50" x2="107.20" y2="804.50" stroke="#808080" stroke-width="1"/>
<text x="96.00" y="809.70" font-size="14.4" text-anchor="end" font-weight="normal" >35</text>
<line x1="189.80" y1="973.75" x2="189.80" y2="992.90" stroke="#808080" stroke-width="1"/>
<line x1="188.30" y1="973.75" x2="191.30" y2="973.75" stroke="#808080" stroke-width="1"/>
<rect x="171.30" y="993.40" width="36.20" height="16.20" fill="#fff" stroke="#666" stroke-width="1"/>
<line x1="152.70" y1="838.90" x2="152.70" y2="926.40" stroke="#808080" stroke-width="1"/>
<line x1="151.20" y1="838.90" x2="154.20" y2="838.90" stroke="#808080" stroke-width="1"/>
<rect x="134.50" y="926.40" width="37.30" height="83.20" fill="#000" stroke="none" stroke-width="1"/>
<text transform="translate(74.70,906.00) rotate(-90)" font-size="14" text-anchor="middle" font-weight="bold"><tspan stroke="#fff" stroke-width="0.2">CD4 SP thymocytes</tspan> <tspan font-weight="normal" stroke="#000" stroke-width="0.12">(x10<tspan font-size="8.5" dy="-7.5" dx="-1">6</tspan><tspan dy="7.5" dx="-1.4">)</tspan></tspan></text>
<text x="171.00" y="1034.50" font-size="14" text-anchor="middle" font-weight="normal" >SP CD4+</text>
<text x="189.70" y="966.07" font-size="27" text-anchor="middle" font-weight="bold" >*</text>
<text x="53.00" y="792.00" font-size="20.5" text-anchor="start" font-weight="bold" >iii</text>
<line x1="302.40" y1="804.50" x2="302.40" y2="1014.00" stroke="#808080" stroke-width="1"/>
<line x1="302.40" y1="1009.50" x2="438.80" y2="1009.50" stroke="#808080" stroke-width="1"/>
<line x1="438.80" y1="1009.50" x2="438.80" y2="1014.00" stroke="#808080" stroke-width="1"/>
<line x1="297.40" y1="1009.50" x2="302.40" y2="1009.50" stroke="#808080" stroke-width="1"/>
<text x="291.50" y="1014.70" font-size="14.4" text-anchor="end" font-weight="normal" >0</text>
<line x1="298.40" y1="1004.94" x2="302.40" y2="1004.94" stroke="#808080" stroke-width="1"/>
<line x1="298.40" y1="1000.39" x2="302.40" y2="1000.39" stroke="#808080" stroke-width="1"/>
<line x1="298.40" y1="995.83" x2="302.40" y2="995.83" stroke="#808080" stroke-width="1"/>
<line x1="298.40" y1="991.28" x2="302.40" y2="991.28" stroke="#808080" stroke-width="1"/>
<line x1="297.40" y1="986.72" x2="302.40" y2="986.72" stroke="#808080" stroke-width="1"/>
<text x="291.50" y="991.92" font-size="14.4" text-anchor="end" font-weight="normal" >1</text>
<line x1="298.40" y1="982.17" x2="302.40" y2="982.17" stroke="#808080" stroke-width="1"/>
<line x1="298.40" y1="977.61" x2="302.40" y2="977.61" stroke="#808080" stroke-width="1"/>
<line x1="298.40" y1="973.06" x2="302.40" y2="973.06" stroke="#808080" stroke-width="1"/>
<line x1="298.40" y1="968.50" x2="302.40" y2="968.50" stroke="#808080" stroke-width="1"/>
<line x1="297.40" y1="963.94" x2="302.40" y2="963.94" stroke="#808080" stroke-width="1"/>
<text x="291.50" y="969.14" font-size="14.4" text-anchor="end" font-weight="normal" >2</text>
<line x1="298.40" y1="959.39" x2="302.40" y2="959.39" stroke="#808080" stroke-width="1"/>
<line x1="298.40" y1="954.83" x2="302.40" y2="954.83" stroke="#808080" stroke-width="1"/>
<line x1="298.40" y1="950.28" x2="302.40" y2="950.28" stroke="#808080" stroke-width="1"/>
<line x1="298.40" y1="945.72" x2="302.40" y2="945.72" stroke="#808080" stroke-width="1"/>
<line x1="297.40" y1="941.17" x2="302.40" y2="941.17" stroke="#808080" stroke-width="1"/>
<text x="291.50" y="946.37" font-size="14.4" text-anchor="end" font-weight="normal" >3</text>
<line x1="298.40" y1="936.61" x2="302.40" y2="936.61" stroke="#808080" stroke-width="1"/>
<line x1="298.40" y1="932.06" x2="302.40" y2="932.06" stroke="#808080" stroke-width="1"/>
<line x1="298.40" y1="927.50" x2="302.40" y2="927.50" stroke="#808080" stroke-width="1"/>
<line x1="298.40" y1="922.94" x2="302.40" y2="922.94" stroke="#808080" stroke-width="1"/>
<line x1="297.40" y1="918.39" x2="302.40" y2="918.39" stroke="#808080" stroke-width="1"/>
<text x="291.50" y="923.59" font-size="14.4" text-anchor="end" font-weight="normal" >4</text>
<line x1="298.40" y1="913.83" x2="302.40" y2="913.83" stroke="#808080" stroke-width="1"/>
<line x1="298.40" y1="909.28" x2="302.40" y2="909.28" stroke="#808080" stroke-width="1"/>
<line x1="298.40" y1="904.72" x2="302.40" y2="904.72" stroke="#808080" stroke-width="1"/>
<line x1="298.40" y1="900.17" x2="302.40" y2="900.17" stroke="#808080" stroke-width="1"/>
<line x1="297.40" y1="895.61" x2="302.40" y2="895.61" stroke="#808080" stroke-width="1"/>
<text x="291.50" y="900.81" font-size="14.4" text-anchor="end" font-weight="normal" >5</text>
<line x1="298.40" y1="891.06" x2="302.40" y2="891.06" stroke="#808080" stroke-width="1"/>
<line x1="298.40" y1="886.50" x2="302.40" y2="886.50" stroke="#808080" stroke-width="1"/>
<line x1="298.40" y1="881.94" x2="302.40" y2="881.94" stroke="#808080" stroke-width="1"/>
<line x1="298.40" y1="877.39" x2="302.40" y2="877.39" stroke="#808080" stroke-width="1"/>
<line x1="297.40" y1="872.83" x2="302.40" y2="872.83" stroke="#808080" stroke-width="1"/>
<text x="291.50" y="878.03" font-size="14.4" text-anchor="end" font-weight="normal" >6</text>
<line x1="298.40" y1="868.28" x2="302.40" y2="868.28" stroke="#808080" stroke-width="1"/>
<line x1="298.40" y1="863.72" x2="302.40" y2="863.72" stroke="#808080" stroke-width="1"/>
<line x1="298.40" y1="859.17" x2="302.40" y2="859.17" stroke="#808080" stroke-width="1"/>
<line x1="298.40" y1="854.61" x2="302.40" y2="854.61" stroke="#808080" stroke-width="1"/>
<line x1="297.40" y1="850.06" x2="302.40" y2="850.06" stroke="#808080" stroke-width="1"/>
<text x="291.50" y="855.26" font-size="14.4" text-anchor="end" font-weight="normal" >7</text>
<line x1="298.40" y1="845.50" x2="302.40" y2="845.50" stroke="#808080" stroke-width="1"/>
<line x1="298.40" y1="840.94" x2="302.40" y2="840.94" stroke="#808080" stroke-width="1"/>
<line x1="298.40" y1="836.39" x2="302.40" y2="836.39" stroke="#808080" stroke-width="1"/>
<line x1="298.40" y1="831.83" x2="302.40" y2="831.83" stroke="#808080" stroke-width="1"/>
<line x1="297.40" y1="827.28" x2="302.40" y2="827.28" stroke="#808080" stroke-width="1"/>
<text x="291.50" y="832.48" font-size="14.4" text-anchor="end" font-weight="normal" >8</text>
<line x1="298.40" y1="822.72" x2="302.40" y2="822.72" stroke="#808080" stroke-width="1"/>
<line x1="298.40" y1="818.17" x2="302.40" y2="818.17" stroke="#808080" stroke-width="1"/>
<line x1="298.40" y1="813.61" x2="302.40" y2="813.61" stroke="#808080" stroke-width="1"/>
<line x1="298.40" y1="809.06" x2="302.40" y2="809.06" stroke="#808080" stroke-width="1"/>
<line x1="297.40" y1="804.50" x2="302.40" y2="804.50" stroke="#808080" stroke-width="1"/>
<text x="291.50" y="809.70" font-size="14.4" text-anchor="end" font-weight="normal" >9</text>
<line x1="390.10" y1="925.80" x2="390.10" y2="974.60" stroke="#808080" stroke-width="1"/>
<line x1="388.60" y1="925.80" x2="391.60" y2="925.80" stroke="#808080" stroke-width="1"/>
<rect x="370.40" y="975.10" width="38.50" height="34.40" fill="#fff" stroke="#666" stroke-width="1"/>
<line x1="352.00" y1="822.70" x2="352.00" y2="909.40" stroke="#808080" stroke-width="1"/>
<line x1="350.50" y1="822.70" x2="353.50" y2="822.70" stroke="#808080" stroke-width="1"/>
<rect x="332.10" y="909.40" width="38.80" height="100.10" fill="#000" stroke="none" stroke-width="1"/>
<text transform="translate(276.60,906.00) rotate(-90)" font-size="13.65" text-anchor="middle" font-weight="bold"><tspan stroke="#fff" stroke-width="0.2">CD8 SP thymocytes</tspan> <tspan font-weight="normal" stroke="#000" stroke-width="0.12">(x10<tspan font-size="8.5" dy="-7.5" dx="-1">6</tspan><tspan dy="7.5" dx="-1.4">)</tspan></tspan></text>
<text x="370.00" y="1033.20" font-size="13.6" text-anchor="middle" font-weight="normal" >SP CD8+</text>
<text x="389.50" y="916.97" font-size="27" text-anchor="middle" font-weight="bold" >*</text>
<text x="257.20" y="791.00" font-size="20.5" text-anchor="start" font-weight="bold" >iv</text>
<rect x="454.60" y="773.10" width="18.00" height="17.20" fill="#000" stroke="none" stroke-width="1"/>
<text x="485.00" y="790.00" font-size="21.5" text-anchor="start" font-weight="normal" >wt</text>
<rect x="455.10" y="810.50" width="17.00" height="16.50" fill="#fff" stroke="#555" stroke-width="1.1"/>
<text x="483.00" y="823.80" font-size="21.5" text-anchor="start" font-weight="normal" >mut</text>
</svg></body></html>
